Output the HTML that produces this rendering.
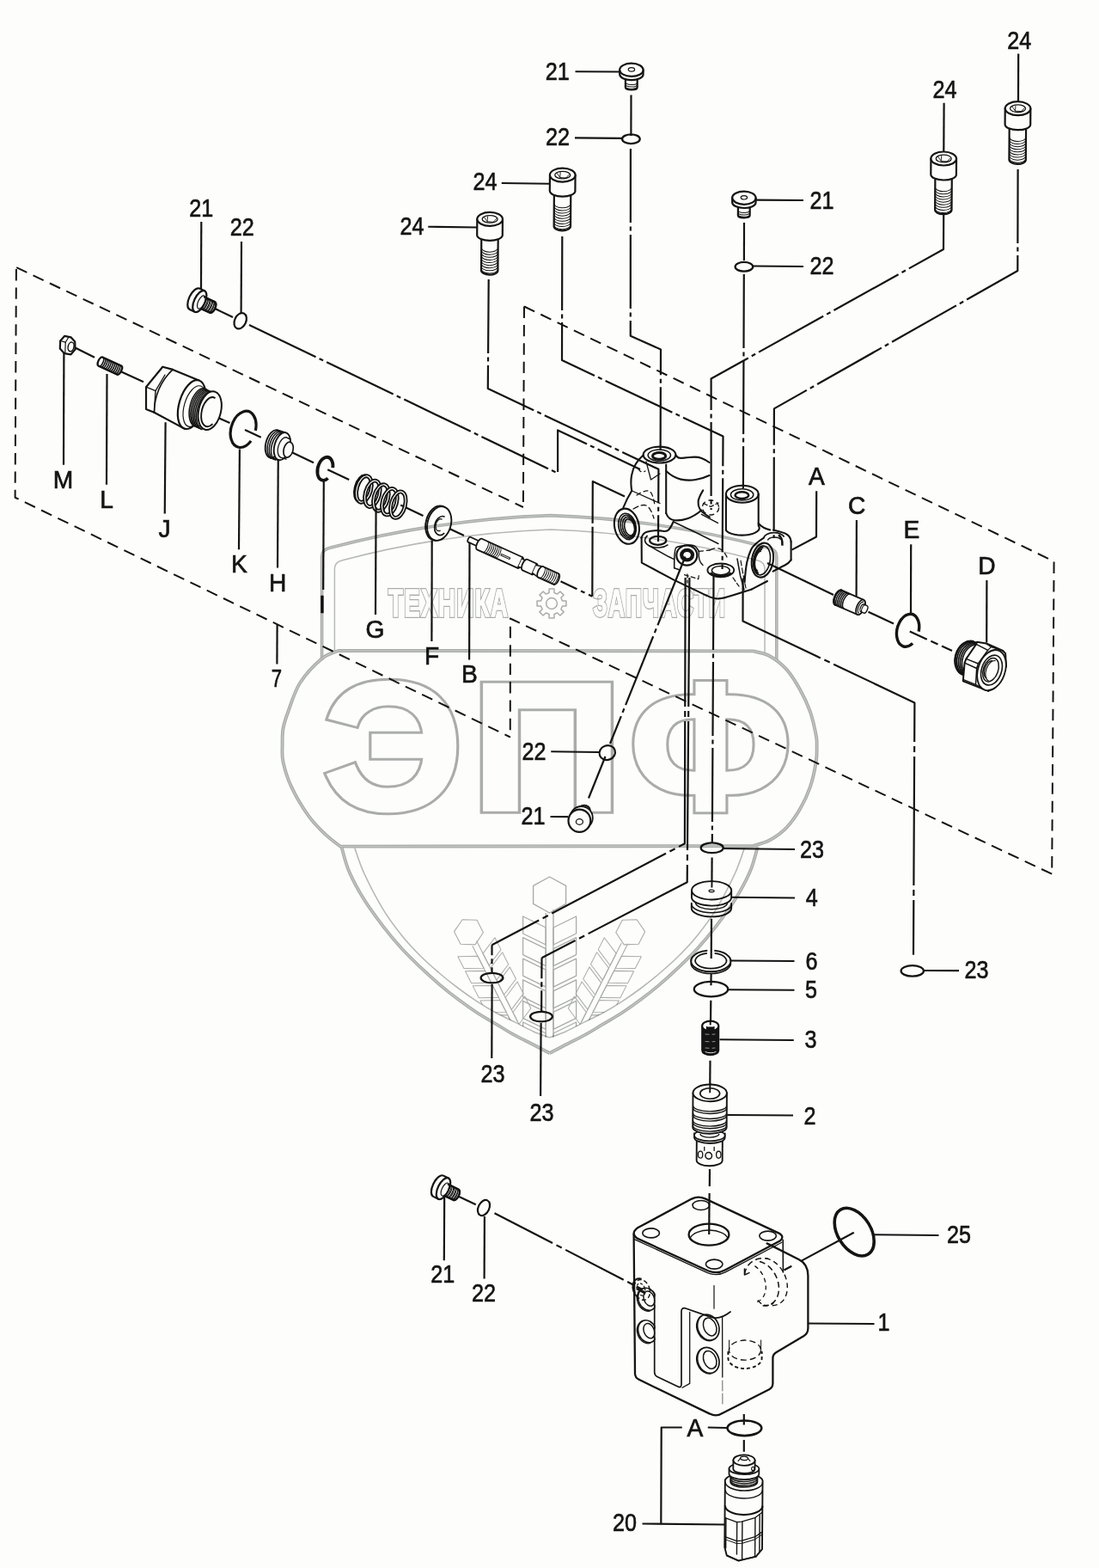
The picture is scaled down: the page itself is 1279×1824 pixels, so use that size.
<!DOCTYPE html>
<html lang="ru">
<head>
<meta charset="utf-8">
<title>Exploded view</title>
<style>
html,body{margin:0;padding:0;background:#fdfefc;}
body{width:1279px;height:1824px;overflow:hidden;}
svg{display:block;font-family:"Liberation Sans",sans-serif;}
</style>
</head>
<body>
<svg width="1279" height="1824" viewBox="0 0 1279 1824">
<rect x="0" y="0" width="1279" height="1824" fill="#fdfefc"/>
<g id="watermark" fill="none" stroke-linejoin="round">
<clipPath id="cpS"><path d="M412.8 986.4 C414.63 991.33 418.32 1004.13 423.8 1016 C429.28 1027.87 438.4 1045.57 445.7 1057.6 C453 1069.63 460.3 1079.08 467.6 1088.2 C474.9 1097.32 482.22 1105 489.5 1112.3 C496.78 1119.6 504.02 1125.8 511.3 1132 C518.58 1138.2 525.9 1144.03 533.2 1149.5 C540.5 1154.97 547.8 1160.05 555.1 1164.8 C562.4 1169.55 569.7 1173.98 577 1178 C584.3 1182.02 591.6 1185.25 598.9 1188.9 C606.2 1192.55 614.02 1196.88 620.8 1199.9 C627.58 1202.92 633.33 1207 639.6 1207 C645.87 1207 651.62 1202.92 658.4 1199.9 C665.18 1196.88 673 1192.55 680.3 1188.9 C687.6 1185.25 694.9 1182.02 702.2 1178 C709.5 1173.98 716.8 1169.55 724.1 1164.8 C731.4 1160.05 738.7 1154.97 746 1149.5 C753.3 1144.03 760.62 1138.2 767.9 1132 C775.18 1125.8 782.42 1119.6 789.7 1112.3 C796.98 1105 804.3 1097.32 811.6 1088.2 C818.9 1079.08 826.2 1069.63 833.5 1057.6 C840.8 1045.57 849.92 1027.87 855.4 1016 C860.88 1004.13 864.57 991.33 866.4 986.4 L412.8 986.4 Z"/></clipPath>
<g clip-path="url(#cpS)">
<g transform="translate(639.6 1044) rotate(0) scale(1)">
<polygon points="0,-24 19,-13.6 19,7.4 0,18 -19,7.4 -19,-13.6" stroke="#aaacaa" stroke-width="1.4" fill="none"/>
<path d="M-4.4 18 L-4.4 199 M4.4 14 L4.4 199" stroke="#aaacaa" stroke-width="1.4"/>
<path d="M-4.4 35 L-31 22 L-31 42 L-4.4 55 Z" stroke="#aaacaa" stroke-width="1.3"/>
<path d="M4.4 35 L31 22 L31 42 L4.4 55 Z" stroke="#aaacaa" stroke-width="1.3"/>
<path d="M-4.4 59.6 L-31 46.6 L-31 66.6 L-4.4 79.6 Z" stroke="#aaacaa" stroke-width="1.3"/>
<path d="M4.4 59.6 L31 46.6 L31 66.6 L4.4 79.6 Z" stroke="#aaacaa" stroke-width="1.3"/>
<path d="M-4.4 84.2 L-31 71.2 L-31 91.2 L-4.4 104.2 Z" stroke="#aaacaa" stroke-width="1.3"/>
<path d="M4.4 84.2 L31 71.2 L31 91.2 L4.4 104.2 Z" stroke="#aaacaa" stroke-width="1.3"/>
<path d="M-4.4 108.8 L-31 95.8 L-31 115.8 L-4.4 128.8 Z" stroke="#aaacaa" stroke-width="1.3"/>
<path d="M4.4 108.8 L31 95.8 L31 115.8 L4.4 128.8 Z" stroke="#aaacaa" stroke-width="1.3"/>
<path d="M-4.4 133.4 L-31 120.4 L-31 140.4 L-4.4 153.4 Z" stroke="#aaacaa" stroke-width="1.3"/>
<path d="M4.4 133.4 L31 120.4 L31 140.4 L4.4 153.4 Z" stroke="#aaacaa" stroke-width="1.3"/>
<path d="M-4.4 158 L-31 145 L-31 165 L-4.4 178 Z" stroke="#aaacaa" stroke-width="1.3"/>
<path d="M4.4 158 L31 145 L31 165 L4.4 178 Z" stroke="#aaacaa" stroke-width="1.3"/>
<path d="M-4.4 182.6 L-31 169.6 L-31 189.6 L-4.4 202.6 Z" stroke="#aaacaa" stroke-width="1.3"/>
<path d="M4.4 182.6 L31 169.6 L31 189.6 L4.4 202.6 Z" stroke="#aaacaa" stroke-width="1.3"/>
</g>
<g transform="translate(546.6 1086.4) rotate(-27) scale(0.78)">
<polygon points="0,-24 19,-13.6 19,7.4 0,18 -19,7.4 -19,-13.6" stroke="#aaacaa" stroke-width="1.4" fill="none"/>
<path d="M-4.4 18 L-4.4 149 M4.4 14 L4.4 149" stroke="#aaacaa" stroke-width="1.4"/>
<path d="M-4.4 35 L-31 22 L-31 42 L-4.4 55 Z" stroke="#aaacaa" stroke-width="1.3"/>
<path d="M4.4 35 L31 22 L31 42 L4.4 55 Z" stroke="#aaacaa" stroke-width="1.3"/>
<path d="M-4.4 59.6 L-31 46.6 L-31 66.6 L-4.4 79.6 Z" stroke="#aaacaa" stroke-width="1.3"/>
<path d="M4.4 59.6 L31 46.6 L31 66.6 L4.4 79.6 Z" stroke="#aaacaa" stroke-width="1.3"/>
<path d="M-4.4 84.2 L-31 71.2 L-31 91.2 L-4.4 104.2 Z" stroke="#aaacaa" stroke-width="1.3"/>
<path d="M4.4 84.2 L31 71.2 L31 91.2 L4.4 104.2 Z" stroke="#aaacaa" stroke-width="1.3"/>
<path d="M-4.4 108.8 L-31 95.8 L-31 115.8 L-4.4 128.8 Z" stroke="#aaacaa" stroke-width="1.3"/>
<path d="M4.4 108.8 L31 95.8 L31 115.8 L4.4 128.8 Z" stroke="#aaacaa" stroke-width="1.3"/>
<path d="M-4.4 133.4 L-31 120.4 L-31 140.4 L-4.4 153.4 Z" stroke="#aaacaa" stroke-width="1.3"/>
<path d="M4.4 133.4 L31 120.4 L31 140.4 L4.4 153.4 Z" stroke="#aaacaa" stroke-width="1.3"/>
</g>
<g transform="translate(732.6 1086.4) rotate(27) scale(0.78)">
<polygon points="0,-24 19,-13.6 19,7.4 0,18 -19,7.4 -19,-13.6" stroke="#aaacaa" stroke-width="1.4" fill="none"/>
<path d="M-4.4 18 L-4.4 149 M4.4 14 L4.4 149" stroke="#aaacaa" stroke-width="1.4"/>
<path d="M-4.4 35 L-31 22 L-31 42 L-4.4 55 Z" stroke="#aaacaa" stroke-width="1.3"/>
<path d="M4.4 35 L31 22 L31 42 L4.4 55 Z" stroke="#aaacaa" stroke-width="1.3"/>
<path d="M-4.4 59.6 L-31 46.6 L-31 66.6 L-4.4 79.6 Z" stroke="#aaacaa" stroke-width="1.3"/>
<path d="M4.4 59.6 L31 46.6 L31 66.6 L4.4 79.6 Z" stroke="#aaacaa" stroke-width="1.3"/>
<path d="M-4.4 84.2 L-31 71.2 L-31 91.2 L-4.4 104.2 Z" stroke="#aaacaa" stroke-width="1.3"/>
<path d="M4.4 84.2 L31 71.2 L31 91.2 L4.4 104.2 Z" stroke="#aaacaa" stroke-width="1.3"/>
<path d="M-4.4 108.8 L-31 95.8 L-31 115.8 L-4.4 128.8 Z" stroke="#aaacaa" stroke-width="1.3"/>
<path d="M4.4 108.8 L31 95.8 L31 115.8 L4.4 128.8 Z" stroke="#aaacaa" stroke-width="1.3"/>
<path d="M-4.4 133.4 L-31 120.4 L-31 140.4 L-4.4 153.4 Z" stroke="#aaacaa" stroke-width="1.3"/>
<path d="M4.4 133.4 L31 120.4 L31 140.4 L4.4 153.4 Z" stroke="#aaacaa" stroke-width="1.3"/>
</g>
</g>
<text transform="translate(457.5 940.6) scale(1.08 1)" font-size="209" font-weight="bold" text-anchor="middle" stroke-linejoin="miter" stroke-miterlimit="3" fill="#aaacaa" stroke="#aaacaa" stroke-width="10.7">Э</text>
<text transform="translate(457.5 940.6) scale(1.08 1)" font-size="209" font-weight="bold" text-anchor="middle" stroke-linejoin="miter" stroke-miterlimit="3" fill="#fdfefc" stroke="#fdfefc" stroke-width="4.7">Э</text>
<text transform="translate(636.4 940.6) scale(1.17 1)" font-size="209" font-weight="bold" text-anchor="middle" stroke-linejoin="miter" stroke-miterlimit="3" fill="#aaacaa" stroke="#aaacaa" stroke-width="10.7">П</text>
<text transform="translate(636.4 940.6) scale(1.17 1)" font-size="209" font-weight="bold" text-anchor="middle" stroke-linejoin="miter" stroke-miterlimit="3" fill="#fdfefc" stroke="#fdfefc" stroke-width="4.7">П</text>
<text transform="translate(827 940.6) scale(1.05 1)" font-size="209" font-weight="bold" text-anchor="middle" stroke-linejoin="miter" stroke-miterlimit="3" fill="#aaacaa" stroke="#aaacaa" stroke-width="10.7">Ф</text>
<text transform="translate(827 940.6) scale(1.05 1)" font-size="209" font-weight="bold" text-anchor="middle" stroke-linejoin="miter" stroke-miterlimit="3" fill="#fdfefc" stroke="#fdfefc" stroke-width="4.7">Ф</text>
<text transform="translate(522.2 717.2) scale(0.62 1)" font-size="44.5" font-weight="bold" text-anchor="middle" stroke-linejoin="miter" stroke-miterlimit="3" letter-spacing="2.4" fill="#aaacaa" stroke="#aaacaa" stroke-width="3.9">ТЕХНИКА</text>
<text transform="translate(522.2 717.2) scale(0.62 1)" font-size="44.5" font-weight="bold" text-anchor="middle" stroke-linejoin="miter" stroke-miterlimit="3" letter-spacing="2.4" fill="#fdfefc" stroke="#fdfefc" stroke-width="1.3">ТЕХНИКА</text>
<text transform="translate(767.8 717.2) scale(0.59 1)" font-size="44.5" font-weight="bold" text-anchor="middle" stroke-linejoin="miter" stroke-miterlimit="3" letter-spacing="2.4" fill="#aaacaa" stroke="#aaacaa" stroke-width="3.9">ЗАПЧАСТИ</text>
<text transform="translate(767.8 717.2) scale(0.59 1)" font-size="44.5" font-weight="bold" text-anchor="middle" stroke-linejoin="miter" stroke-miterlimit="3" letter-spacing="2.4" fill="#fdfefc" stroke="#fdfefc" stroke-width="1.3">ЗАПЧАСТИ</text>
<polygon points="658.94,699.04 658.94,704.96 654.45,704.99 652.91,708.69 656.07,711.89 651.89,716.07 648.69,712.91 644.99,714.45 644.96,718.94 639.04,718.94 639.01,714.45 635.31,712.91 632.11,716.07 627.93,711.89 631.09,708.69 629.55,704.99 625.06,704.96 625.06,699.04 629.55,699.01 631.09,695.31 627.93,692.11 632.11,687.93 635.31,691.09 639.01,689.55 639.04,685.06 644.96,685.06 644.99,689.55 648.69,691.09 651.89,687.93 656.07,692.11 652.91,695.31 654.45,699.01" stroke="#aaacaa" stroke-width="1.5" fill="none"/>
<circle cx="642" cy="702" r="6.4" stroke="#aaacaa" stroke-width="1.5" fill="none"/>
</g>
<g id="box7">
<polyline points="19.2,311.2 608.9,590" fill="none" stroke="#141414" stroke-width="2" stroke-linejoin="round" stroke-dasharray="13.4 8"/>
<polyline points="18.9,313 17.6,578.75 593.75,857.5" fill="none" stroke="#141414" stroke-width="2" stroke-linejoin="round" stroke-dasharray="13.4 8"/>
<polyline points="610,356.5 608.9,590" fill="none" stroke="#141414" stroke-width="2" stroke-linejoin="round" stroke-dasharray="13.4 8"/>
<polyline points="610,356.5 1226.6,653 1224.2,1016.7" fill="none" stroke="#141414" stroke-width="2" stroke-linejoin="round" stroke-dasharray="13.4 8"/>
<polyline points="1224.2,1016.7 593.9,719.5 593.75,857.5" fill="none" stroke="#141414" stroke-width="2" stroke-linejoin="round" stroke-dasharray="13.4 8"/>
</g>
<g id="chain">
<line x1="734.5" y1="110.5" x2="734.4" y2="158" stroke="#141414" stroke-width="2.2"/>
<polyline points="733.9,173 733.75,390.75 769,406.5 768.6,524" fill="none" stroke="#141414" stroke-width="2.2" stroke-linejoin="round" stroke-dasharray="86 4.5 5 4.5"/>
<line x1="866" y1="259" x2="865.9" y2="303" stroke="#141414" stroke-width="2.2"/>
<line x1="865.8" y1="319" x2="864.9" y2="568" stroke="#141414" stroke-width="2.2" stroke-dasharray="86 4.5 5 4.5"/>
<polyline points="654.3,275 654,419 841.5,507.6 840.6,662" fill="none" stroke="#141414" stroke-width="2.2" stroke-linejoin="round" stroke-dasharray="86 4.5 5 4.5"/>
<polyline points="568.7,325 567.8,452 766.4,545.8 766,630" fill="none" stroke="#141414" stroke-width="2.2" stroke-linejoin="round" stroke-dasharray="86 4.5 5 4.5"/>
<polyline points="1098.2,250 1098,290 827.6,440.5 827.6,593" fill="none" stroke="#141414" stroke-width="2.2" stroke-linejoin="round" stroke-dasharray="86 4.5 5 4.5"/>
<polyline points="1184.6,197 1184.3,315 900.9,475.4 900.6,626" fill="none" stroke="#141414" stroke-width="2.2" stroke-linejoin="round" stroke-dasharray="86 4.5 5 4.5"/>
<line x1="247" y1="357.5" x2="271" y2="369" stroke="#141414" stroke-width="2.2"/>
<polyline points="290,378 649.1,550.5 649.1,500.4 745,546" fill="none" stroke="#141414" stroke-width="2.2" stroke-linejoin="round" stroke-dasharray="86 4.5 5 4.5"/>
<line x1="87.5" y1="404.5" x2="110" y2="415.75" stroke="#141414" stroke-width="2.2"/>
<line x1="141.25" y1="432.5" x2="167" y2="444.25" stroke="#141414" stroke-width="2.2"/>
<line x1="255" y1="486.5" x2="267.5" y2="492" stroke="#141414" stroke-width="2.2"/>
<line x1="285" y1="500" x2="303.75" y2="508.75" stroke="#141414" stroke-width="2.2"/>
<line x1="338.75" y1="525.75" x2="365" y2="538.25" stroke="#141414" stroke-width="2.2"/>
<line x1="381.25" y1="546.25" x2="406.25" y2="558" stroke="#141414" stroke-width="2.2"/>
<line x1="466.25" y1="587.5" x2="492.5" y2="600" stroke="#141414" stroke-width="2.2"/>
<line x1="512.5" y1="610" x2="540" y2="623" stroke="#141414" stroke-width="2.2"/>
<line x1="652.5" y1="676.25" x2="689.3" y2="693.75" stroke="#141414" stroke-width="2.2" stroke-dasharray="21 5 5 5"/>
<polyline points="689.3,693.75 689.6,612 689.8,560 727,577.5" fill="none" stroke="#141414" stroke-width="2.2" stroke-linejoin="round" stroke-dasharray="81 4 400"/>
<line x1="893" y1="655" x2="970" y2="692" stroke="#141414" stroke-width="2.2" stroke-dasharray="86 4.5 5 4.5"/>
<line x1="1010.5" y1="711.75" x2="1040" y2="725.5" stroke="#141414" stroke-width="2.2"/>
<line x1="1058.75" y1="734.5" x2="1108" y2="757" stroke="#141414" stroke-width="2.2" stroke-dasharray="22 5 9 5"/>
<polyline points="864.6,672.5 864.5,722.5 1064.4,817.4 1063,1110.7" fill="none" stroke="#141414" stroke-width="2.2" stroke-linejoin="round" stroke-dasharray="150 5 7 5"/>
<line x1="797.5" y1="647.5" x2="710" y2="865" stroke="#141414" stroke-width="2.2" stroke-dasharray="86 4.5 5 4.5"/>
<line x1="704.5" y1="880" x2="685" y2="928.5" stroke="#141414" stroke-width="2.2"/>
<polyline points="797.6,672 796.9,981.25 572.5,1099.25" fill="none" stroke="#141414" stroke-width="2.2" stroke-linejoin="round" stroke-dasharray="150 5 7 5"/>
<line x1="572.5" y1="1099.25" x2="572.5" y2="1131" stroke="#141414" stroke-width="2.2" stroke-dasharray="12 4 6 4 20"/>
<polyline points="802.4,672 799.7,1026.25 630.5,1114.25" fill="none" stroke="#141414" stroke-width="2.2" stroke-linejoin="round" stroke-dasharray="150 5 7 5"/>
<line x1="630.5" y1="1114.25" x2="630.1" y2="1177" stroke="#141414" stroke-width="2.2" stroke-dasharray="24 4 6 4 40"/>
<line x1="830.5" y1="670" x2="828.8" y2="980" stroke="#141414" stroke-width="2.2" stroke-dasharray="86 4.5 5 4.5"/>
<line x1="828.6" y1="997.5" x2="828.4" y2="1032.5" stroke="#141414" stroke-width="2.2"/>
<line x1="828" y1="1068.75" x2="827.7" y2="1115" stroke="#141414" stroke-width="2.2"/>
<line x1="827.6" y1="1132.5" x2="827.5" y2="1146.25" stroke="#141414" stroke-width="2.2"/>
<line x1="827.3" y1="1163.75" x2="827" y2="1191" stroke="#141414" stroke-width="2.2"/>
<line x1="826.5" y1="1233.75" x2="826.2" y2="1270" stroke="#141414" stroke-width="2.2"/>
<line x1="826" y1="1360" x2="825.8" y2="1380" stroke="#141414" stroke-width="2.2"/>
<line x1="825.6" y1="1388" x2="825.2" y2="1436" stroke="#141414" stroke-width="2.2"/>
<line x1="530" y1="1390" x2="553.75" y2="1401.25" stroke="#141414" stroke-width="2.2"/>
<line x1="575.5" y1="1411.25" x2="747.5" y2="1500" stroke="#141414" stroke-width="2.2" stroke-dasharray="76 5 7 5"/>
<line x1="912.5" y1="1477.5" x2="993.75" y2="1433.75" stroke="#141414" stroke-width="2.2" stroke-dasharray="10 13 80"/>
<line x1="865.8" y1="1645" x2="865.8" y2="1657.5" stroke="#141414" stroke-width="2.2"/>
<line x1="865.8" y1="1675" x2="865.8" y2="1688.75" stroke="#141414" stroke-width="2.2"/>
</g>
<g id="small">
<g transform="translate(1184.6 117.6) rotate(0.4)">
<path d="M-9.7 33 L-9.7 68.3 A9.7 5 0 0 0 9.7 68.3 L9.7 33" fill="#fdfefc" stroke="#141414" stroke-width="2.2" stroke-linejoin="round" stroke-linecap="round"/>
<path d="M-9.7 42 A9.7 4.85 0 0 0 9.7 42" fill="none" stroke="#141414" stroke-width="1"/>
<path d="M-9.7 45.1 A9.7 4.85 0 0 0 9.7 45.1" fill="none" stroke="#141414" stroke-width="1"/>
<path d="M-9.7 48.2 A9.7 4.85 0 0 0 9.7 48.2" fill="none" stroke="#141414" stroke-width="1"/>
<path d="M-9.7 51.3 A9.7 4.85 0 0 0 9.7 51.3" fill="none" stroke="#141414" stroke-width="1"/>
<path d="M-9.7 54.4 A9.7 4.85 0 0 0 9.7 54.4" fill="none" stroke="#141414" stroke-width="1"/>
<path d="M-9.7 57.5 A9.7 4.85 0 0 0 9.7 57.5" fill="none" stroke="#141414" stroke-width="1"/>
<path d="M-9.7 60.6 A9.7 4.85 0 0 0 9.7 60.6" fill="none" stroke="#141414" stroke-width="1"/>
<path d="M-9.7 63.7 A9.7 4.85 0 0 0 9.7 63.7" fill="none" stroke="#141414" stroke-width="1"/>
<path d="M-9.7 66.8 A9.7 4.85 0 0 0 9.7 66.8" fill="none" stroke="#141414" stroke-width="1"/>
<path d="M-14.8 8.6 L-14.8 27.2 A14.8 6.4 0 0 0 14.8 27.2 L14.8 8.6" fill="#fdfefc" stroke="#141414" stroke-width="2.2" stroke-linejoin="round" stroke-linecap="round"/>
<ellipse cx="0" cy="8.6" rx="14.8" ry="7.99" fill="#fdfefc" stroke="#141414" stroke-width="2.2"/>
<ellipse cx="0" cy="8.6" rx="9" ry="4.32" fill="none" stroke="#141414" stroke-width="1.3"/>
<path d="M-6.5 6.5 L-3 11.5 L4 12 M-3 11.5 L-2.6 5.6 M4 12 L7.6 8" fill="none" stroke="#141414" stroke-width="0.9" stroke-linejoin="round" stroke-linecap="round"/>
</g>
<g transform="translate(1098.3 175.9) rotate(0.4)">
<path d="M-9.7 33 L-9.7 68.3 A9.7 5 0 0 0 9.7 68.3 L9.7 33" fill="#fdfefc" stroke="#141414" stroke-width="2.2" stroke-linejoin="round" stroke-linecap="round"/>
<path d="M-9.7 42 A9.7 4.85 0 0 0 9.7 42" fill="none" stroke="#141414" stroke-width="1"/>
<path d="M-9.7 45.1 A9.7 4.85 0 0 0 9.7 45.1" fill="none" stroke="#141414" stroke-width="1"/>
<path d="M-9.7 48.2 A9.7 4.85 0 0 0 9.7 48.2" fill="none" stroke="#141414" stroke-width="1"/>
<path d="M-9.7 51.3 A9.7 4.85 0 0 0 9.7 51.3" fill="none" stroke="#141414" stroke-width="1"/>
<path d="M-9.7 54.4 A9.7 4.85 0 0 0 9.7 54.4" fill="none" stroke="#141414" stroke-width="1"/>
<path d="M-9.7 57.5 A9.7 4.85 0 0 0 9.7 57.5" fill="none" stroke="#141414" stroke-width="1"/>
<path d="M-9.7 60.6 A9.7 4.85 0 0 0 9.7 60.6" fill="none" stroke="#141414" stroke-width="1"/>
<path d="M-9.7 63.7 A9.7 4.85 0 0 0 9.7 63.7" fill="none" stroke="#141414" stroke-width="1"/>
<path d="M-9.7 66.8 A9.7 4.85 0 0 0 9.7 66.8" fill="none" stroke="#141414" stroke-width="1"/>
<path d="M-14.8 8.6 L-14.8 27.2 A14.8 6.4 0 0 0 14.8 27.2 L14.8 8.6" fill="#fdfefc" stroke="#141414" stroke-width="2.2" stroke-linejoin="round" stroke-linecap="round"/>
<ellipse cx="0" cy="8.6" rx="14.8" ry="7.99" fill="#fdfefc" stroke="#141414" stroke-width="2.2"/>
<ellipse cx="0" cy="8.6" rx="9" ry="4.32" fill="none" stroke="#141414" stroke-width="1.3"/>
<path d="M-6.5 6.5 L-3 11.5 L4 12 M-3 11.5 L-2.6 5.6 M4 12 L7.6 8" fill="none" stroke="#141414" stroke-width="0.9" stroke-linejoin="round" stroke-linecap="round"/>
</g>
<g transform="translate(654.8 195) rotate(0.4)">
<path d="M-9.7 33 L-9.7 68.3 A9.7 5 0 0 0 9.7 68.3 L9.7 33" fill="#fdfefc" stroke="#141414" stroke-width="2.2" stroke-linejoin="round" stroke-linecap="round"/>
<path d="M-9.7 42 A9.7 4.85 0 0 0 9.7 42" fill="none" stroke="#141414" stroke-width="1"/>
<path d="M-9.7 45.1 A9.7 4.85 0 0 0 9.7 45.1" fill="none" stroke="#141414" stroke-width="1"/>
<path d="M-9.7 48.2 A9.7 4.85 0 0 0 9.7 48.2" fill="none" stroke="#141414" stroke-width="1"/>
<path d="M-9.7 51.3 A9.7 4.85 0 0 0 9.7 51.3" fill="none" stroke="#141414" stroke-width="1"/>
<path d="M-9.7 54.4 A9.7 4.85 0 0 0 9.7 54.4" fill="none" stroke="#141414" stroke-width="1"/>
<path d="M-9.7 57.5 A9.7 4.85 0 0 0 9.7 57.5" fill="none" stroke="#141414" stroke-width="1"/>
<path d="M-9.7 60.6 A9.7 4.85 0 0 0 9.7 60.6" fill="none" stroke="#141414" stroke-width="1"/>
<path d="M-9.7 63.7 A9.7 4.85 0 0 0 9.7 63.7" fill="none" stroke="#141414" stroke-width="1"/>
<path d="M-9.7 66.8 A9.7 4.85 0 0 0 9.7 66.8" fill="none" stroke="#141414" stroke-width="1"/>
<path d="M-14.8 8.6 L-14.8 27.2 A14.8 6.4 0 0 0 14.8 27.2 L14.8 8.6" fill="#fdfefc" stroke="#141414" stroke-width="2.2" stroke-linejoin="round" stroke-linecap="round"/>
<ellipse cx="0" cy="8.6" rx="14.8" ry="7.99" fill="#fdfefc" stroke="#141414" stroke-width="2.2"/>
<ellipse cx="0" cy="8.6" rx="9" ry="4.32" fill="none" stroke="#141414" stroke-width="1.3"/>
<path d="M-6.5 6.5 L-3 11.5 L4 12 M-3 11.5 L-2.6 5.6 M4 12 L7.6 8" fill="none" stroke="#141414" stroke-width="0.9" stroke-linejoin="round" stroke-linecap="round"/>
</g>
<g transform="translate(570.2 246.3) rotate(0.4)">
<path d="M-9.7 33 L-9.7 68.3 A9.7 5 0 0 0 9.7 68.3 L9.7 33" fill="#fdfefc" stroke="#141414" stroke-width="2.2" stroke-linejoin="round" stroke-linecap="round"/>
<path d="M-9.7 42 A9.7 4.85 0 0 0 9.7 42" fill="none" stroke="#141414" stroke-width="1"/>
<path d="M-9.7 45.1 A9.7 4.85 0 0 0 9.7 45.1" fill="none" stroke="#141414" stroke-width="1"/>
<path d="M-9.7 48.2 A9.7 4.85 0 0 0 9.7 48.2" fill="none" stroke="#141414" stroke-width="1"/>
<path d="M-9.7 51.3 A9.7 4.85 0 0 0 9.7 51.3" fill="none" stroke="#141414" stroke-width="1"/>
<path d="M-9.7 54.4 A9.7 4.85 0 0 0 9.7 54.4" fill="none" stroke="#141414" stroke-width="1"/>
<path d="M-9.7 57.5 A9.7 4.85 0 0 0 9.7 57.5" fill="none" stroke="#141414" stroke-width="1"/>
<path d="M-9.7 60.6 A9.7 4.85 0 0 0 9.7 60.6" fill="none" stroke="#141414" stroke-width="1"/>
<path d="M-9.7 63.7 A9.7 4.85 0 0 0 9.7 63.7" fill="none" stroke="#141414" stroke-width="1"/>
<path d="M-9.7 66.8 A9.7 4.85 0 0 0 9.7 66.8" fill="none" stroke="#141414" stroke-width="1"/>
<path d="M-14.8 8.6 L-14.8 27.2 A14.8 6.4 0 0 0 14.8 27.2 L14.8 8.6" fill="#fdfefc" stroke="#141414" stroke-width="2.2" stroke-linejoin="round" stroke-linecap="round"/>
<ellipse cx="0" cy="8.6" rx="14.8" ry="7.99" fill="#fdfefc" stroke="#141414" stroke-width="2.2"/>
<ellipse cx="0" cy="8.6" rx="9" ry="4.32" fill="none" stroke="#141414" stroke-width="1.3"/>
<path d="M-6.5 6.5 L-3 11.5 L4 12 M-3 11.5 L-2.6 5.6 M4 12 L7.6 8" fill="none" stroke="#141414" stroke-width="0.9" stroke-linejoin="round" stroke-linecap="round"/>
</g>
<g transform="translate(734.9 81.3) rotate(0.4)">
<path d="M-6.9 10 L-6.9 20.3 A6.9 2.8 0 0 0 6.9 20.3 L6.9 10" fill="#fdfefc" stroke="#141414" stroke-width="2.2" stroke-linejoin="round" stroke-linecap="round"/>
<path d="M-6.9 14.3 A6.9 2.9 0 0 0 6.9 14.3" fill="none" stroke="#141414" stroke-width="1"/>
<path d="M-6.9 16.8 A6.9 2.9 0 0 0 6.9 16.8" fill="none" stroke="#141414" stroke-width="1"/>
<path d="M-6.9 19.2 A6.9 2.9 0 0 0 6.9 19.2" fill="none" stroke="#141414" stroke-width="1"/>
<path d="M-13.7 0 L-13.7 5.4 A13.7 6.4 0 0 0 13.7 5.4 L13.7 0" fill="#fdfefc" stroke="#141414" stroke-width="2.2" stroke-linejoin="round" stroke-linecap="round"/>
<ellipse cx="0" cy="0" rx="13.7" ry="7.6" fill="#fdfefc" stroke="#141414" stroke-width="2.2"/>
<ellipse cx="0" cy="-0.4" rx="3.7" ry="2.22" fill="none" stroke="#141414" stroke-width="1.2"/>
</g>
<g transform="translate(865.9 230.2) rotate(0.4)">
<path d="M-6.9 10 L-6.9 20.3 A6.9 2.8 0 0 0 6.9 20.3 L6.9 10" fill="#fdfefc" stroke="#141414" stroke-width="2.2" stroke-linejoin="round" stroke-linecap="round"/>
<path d="M-6.9 14.3 A6.9 2.9 0 0 0 6.9 14.3" fill="none" stroke="#141414" stroke-width="1"/>
<path d="M-6.9 16.8 A6.9 2.9 0 0 0 6.9 16.8" fill="none" stroke="#141414" stroke-width="1"/>
<path d="M-6.9 19.2 A6.9 2.9 0 0 0 6.9 19.2" fill="none" stroke="#141414" stroke-width="1"/>
<path d="M-13.7 0 L-13.7 5.4 A13.7 6.4 0 0 0 13.7 5.4 L13.7 0" fill="#fdfefc" stroke="#141414" stroke-width="2.2" stroke-linejoin="round" stroke-linecap="round"/>
<ellipse cx="0" cy="0" rx="13.7" ry="7.6" fill="#fdfefc" stroke="#141414" stroke-width="2.2"/>
<ellipse cx="0" cy="-0.4" rx="3.7" ry="2.22" fill="none" stroke="#141414" stroke-width="1.2"/>
</g>
<ellipse cx="734.4" cy="161.7" rx="10.3" ry="5.4" fill="none" stroke="#141414" stroke-width="2.3"/>
<ellipse cx="865.9" cy="310.3" rx="10.3" ry="5.4" fill="none" stroke="#141414" stroke-width="2.3"/>
<g transform="translate(232.3 350.6) rotate(25)">
<path d="M2 -6.9 L16.5 -6.9 A3.2 6.9 0 0 1 16.5 6.9 L2 6.9" fill="#fdfefc" stroke="#141414" stroke-width="2.2" stroke-linejoin="round" stroke-linecap="round"/>
<path d="M5.5 -6.9 A2.9 6.9 0 0 1 5.5 6.9" fill="none" stroke="#141414" stroke-width="1.1"/>
<path d="M8.3 -6.9 A2.9 6.9 0 0 1 8.3 6.9" fill="none" stroke="#141414" stroke-width="1.1"/>
<path d="M11.1 -6.9 A2.9 6.9 0 0 1 11.1 6.9" fill="none" stroke="#141414" stroke-width="1.1"/>
<path d="M13.9 -6.9 A2.9 6.9 0 0 1 13.9 6.9" fill="none" stroke="#141414" stroke-width="1.1"/>
<path d="M0 -13.5 L-6.5 -13.5 A6.4 13.5 0 0 0 -6.5 13.5 L0 13.5" fill="#fdfefc" stroke="#141414" stroke-width="2.2" stroke-linejoin="round" stroke-linecap="round"/>
<ellipse cx="0" cy="0" rx="6.34" ry="13.5" fill="#fdfefc" stroke="#141414" stroke-width="2.2"/>
<ellipse cx="2.2" cy="0" rx="3.69" ry="8.2" fill="none" stroke="#141414" stroke-width="1.2"/>
<path d="M3 -6.9 L16.5 -6.9 A3.2 6.9 0 0 1 16.5 6.9 L6 6.9" fill="none" stroke="#141414" stroke-width="2.2" stroke-linejoin="round" stroke-linecap="round"/>
<path d="M6.5 -6.9 A2.9 6.9 0 0 1 6.5 6.9" fill="none" stroke="#141414" stroke-width="1.1"/>
<path d="M9.3 -6.9 A2.9 6.9 0 0 1 9.3 6.9" fill="none" stroke="#141414" stroke-width="1.1"/>
<path d="M12.1 -6.9 A2.9 6.9 0 0 1 12.1 6.9" fill="none" stroke="#141414" stroke-width="1.1"/>
<path d="M14.5 -6.9 A2.9 6.9 0 0 1 14.5 6.9" fill="none" stroke="#141414" stroke-width="1.1"/>
</g>
<ellipse cx="279.7" cy="373.3" rx="6.6" ry="9.6" fill="none" stroke="#141414" stroke-width="2.2" transform="rotate(25 279.7 373.3)"/>
<g transform="translate(516 1382.6) rotate(26)">
<path d="M2 -6.9 L16.5 -6.9 A3.2 6.9 0 0 1 16.5 6.9 L2 6.9" fill="#fdfefc" stroke="#141414" stroke-width="2.2" stroke-linejoin="round" stroke-linecap="round"/>
<path d="M5.5 -6.9 A2.9 6.9 0 0 1 5.5 6.9" fill="none" stroke="#141414" stroke-width="1.1"/>
<path d="M8.3 -6.9 A2.9 6.9 0 0 1 8.3 6.9" fill="none" stroke="#141414" stroke-width="1.1"/>
<path d="M11.1 -6.9 A2.9 6.9 0 0 1 11.1 6.9" fill="none" stroke="#141414" stroke-width="1.1"/>
<path d="M13.9 -6.9 A2.9 6.9 0 0 1 13.9 6.9" fill="none" stroke="#141414" stroke-width="1.1"/>
<path d="M0 -13.5 L-6.5 -13.5 A6.4 13.5 0 0 0 -6.5 13.5 L0 13.5" fill="#fdfefc" stroke="#141414" stroke-width="2.2" stroke-linejoin="round" stroke-linecap="round"/>
<ellipse cx="0" cy="0" rx="6.34" ry="13.5" fill="#fdfefc" stroke="#141414" stroke-width="2.2"/>
<ellipse cx="2.2" cy="0" rx="3.69" ry="8.2" fill="none" stroke="#141414" stroke-width="1.2"/>
<path d="M3 -6.9 L16.5 -6.9 A3.2 6.9 0 0 1 16.5 6.9 L6 6.9" fill="none" stroke="#141414" stroke-width="2.2" stroke-linejoin="round" stroke-linecap="round"/>
<path d="M6.5 -6.9 A2.9 6.9 0 0 1 6.5 6.9" fill="none" stroke="#141414" stroke-width="1.1"/>
<path d="M9.3 -6.9 A2.9 6.9 0 0 1 9.3 6.9" fill="none" stroke="#141414" stroke-width="1.1"/>
<path d="M12.1 -6.9 A2.9 6.9 0 0 1 12.1 6.9" fill="none" stroke="#141414" stroke-width="1.1"/>
<path d="M14.5 -6.9 A2.9 6.9 0 0 1 14.5 6.9" fill="none" stroke="#141414" stroke-width="1.1"/>
</g>
<ellipse cx="563" cy="1405" rx="6.3" ry="9.6" fill="none" stroke="#141414" stroke-width="2.2" transform="rotate(26 563 1405)"/>
<ellipse cx="706.75" cy="875.6" rx="9.3" ry="8.3" fill="none" stroke="#141414" stroke-width="2.2" transform="rotate(-20 706.75 875.6)"/>
<ellipse cx="828.7" cy="986.3" rx="13" ry="5.9" fill="none" stroke="#141414" stroke-width="2.3"/>
<ellipse cx="1061.8" cy="1129.4" rx="13.2" ry="6.3" fill="none" stroke="#141414" stroke-width="2.3"/>
<ellipse cx="572.5" cy="1137.6" rx="12.9" ry="5.8" fill="none" stroke="#141414" stroke-width="2.3"/>
<ellipse cx="630" cy="1182.6" rx="12.9" ry="5.8" fill="none" stroke="#141414" stroke-width="2.3"/>
<ellipse cx="827.5" cy="1150.6" rx="19.7" ry="8.7" fill="none" stroke="#141414" stroke-width="2.3"/>
<ellipse cx="866.4" cy="1661.3" rx="19.9" ry="8.8" fill="none" stroke="#141414" stroke-width="2.6"/>
<ellipse cx="994.2" cy="1433.1" rx="30.5" ry="19.3" fill="none" stroke="#141414" stroke-width="3.6" transform="rotate(58 994.2 1433.1)"/>
<path d="M70.2 396.5 L75.3 390.8 L82.5 392.3 L87.2 397.5 L87.5 406.5 L82.5 412.3 L75 411.2 L69.8 405.5 Z" fill="#fdfefc" stroke="#141414" stroke-width="2.2" stroke-linejoin="round" stroke-linecap="round"/>
<path d="M70.2 396.5 L76.2 398.2 L75.8 411" fill="none" stroke="#141414" stroke-width="1.2" stroke-linejoin="round" stroke-linecap="round"/>
<path d="M76.2 398.2 L80 392" fill="none" stroke="#141414" stroke-width="1.2" stroke-linejoin="round" stroke-linecap="round"/>
<ellipse cx="82.6" cy="403.4" rx="3.4" ry="5.4" fill="#fdfefc" stroke="#141414" stroke-width="1.5" transform="rotate(12 82.6 403.4)"/>
<g transform="translate(127.9 425.6) rotate(24.5)">
<path d="M-12 -5.6 L12 -5.6 A2.6 5.6 0 0 1 12 5.6 L-12 5.6 A2.6 5.6 0 0 1 -12 -5.6 Z" fill="#fdfefc" stroke="#141414" stroke-width="2.2" stroke-linejoin="round" stroke-linecap="round"/>
<path d="M-11.6 -5.6 A2.6 5.6 0 0 1 -11.6 5.6" fill="none" stroke="#141414" stroke-width="1.6" stroke-linejoin="round" stroke-linecap="round"/>
<path d="M-9.3 -5.6 A2.6 5.6 0 0 1 -9.3 5.6" fill="none" stroke="#141414" stroke-width="1.6" stroke-linejoin="round" stroke-linecap="round"/>
<path d="M-7 -5.6 A2.6 5.6 0 0 1 -7 5.6" fill="none" stroke="#141414" stroke-width="1.6" stroke-linejoin="round" stroke-linecap="round"/>
<path d="M-4.7 -5.6 A2.6 5.6 0 0 1 -4.7 5.6" fill="none" stroke="#141414" stroke-width="1.6" stroke-linejoin="round" stroke-linecap="round"/>
<path d="M-2.4 -5.6 A2.6 5.6 0 0 1 -2.4 5.6" fill="none" stroke="#141414" stroke-width="1.6" stroke-linejoin="round" stroke-linecap="round"/>
<path d="M-0.1 -5.6 A2.6 5.6 0 0 1 -0.1 5.6" fill="none" stroke="#141414" stroke-width="1.6" stroke-linejoin="round" stroke-linecap="round"/>
<path d="M2.2 -5.6 A2.6 5.6 0 0 1 2.2 5.6" fill="none" stroke="#141414" stroke-width="1.6" stroke-linejoin="round" stroke-linecap="round"/>
<path d="M4.5 -5.6 A2.6 5.6 0 0 1 4.5 5.6" fill="none" stroke="#141414" stroke-width="1.6" stroke-linejoin="round" stroke-linecap="round"/>
<path d="M6.8 -5.6 A2.6 5.6 0 0 1 6.8 5.6" fill="none" stroke="#141414" stroke-width="1.6" stroke-linejoin="round" stroke-linecap="round"/>
<path d="M9.1 -5.6 A2.6 5.6 0 0 1 9.1 5.6" fill="none" stroke="#141414" stroke-width="1.6" stroke-linejoin="round" stroke-linecap="round"/>
<path d="M11.4 -5.6 A2.6 5.6 0 0 1 11.4 5.6" fill="none" stroke="#141414" stroke-width="1.6" stroke-linejoin="round" stroke-linecap="round"/>
</g>
<path d="M179.4 479.8 L214.6 498.6 L231.6 498 L256.8 474 L247 452 L231.5 442.6 L201 429.9 L189.3 426.7 L170 450.2 L170 476 Z" fill="#fdfefc" stroke="#fdfefc" stroke-width="0.1" stroke-linejoin="round" stroke-linecap="round"/>
<path d="M201 429.9 L189.3 426.7 L170 450.2 L170 476 L179.4 479.8" fill="none" stroke="#141414" stroke-width="2.2" stroke-linejoin="round" stroke-linecap="round"/>
<path d="M170 450.2 L181 454.6 L179.4 479.8" fill="none" stroke="#141414" stroke-width="1.4" stroke-linejoin="round" stroke-linecap="round"/>
<path d="M181 454.6 L192 436" fill="none" stroke="#141414" stroke-width="1.3" stroke-linejoin="round" stroke-linecap="round"/>
<path d="M201 429.9 Q180 450 179.4 479.8" fill="none" stroke="#141414" stroke-width="1.6" stroke-linejoin="round" stroke-linecap="round"/>
<path d="M201 429.9 L231.5 442.6" fill="none" stroke="#141414" stroke-width="2.2" stroke-linejoin="round" stroke-linecap="round"/>
<path d="M179.4 479.8 L214.6 498.6" fill="none" stroke="#141414" stroke-width="2.2" stroke-linejoin="round" stroke-linecap="round"/>
<ellipse cx="223.1" cy="470.6" rx="14.5" ry="29.3" fill="#fdfefc" stroke="#141414" stroke-width="2.2" transform="rotate(16.7 223.1 470.6)"/>
<ellipse cx="226.5" cy="472.6" rx="12" ry="24.6" fill="none" stroke="#141414" stroke-width="1.2" transform="rotate(16.7 226.5 472.6)"/>
<ellipse cx="232.6" cy="474" rx="11.6" ry="22.6" fill="#fdfefc" stroke="#141414" stroke-width="1.5" transform="rotate(14 232.6 474)"/>
<path d="M239.77 452.82 A11.6 22.6 14 0 0 228.83 496.68" fill="none" stroke="#141414" stroke-width="1.5"/>
<path d="M241.47 453.57 A11.6 22.6 14 0 0 230.53 497.43" fill="none" stroke="#141414" stroke-width="1.5"/>
<path d="M243.17 454.32 A11.6 22.6 14 0 0 232.23 498.18" fill="none" stroke="#141414" stroke-width="1.5"/>
<path d="M244.87 455.07 A11.6 22.6 14 0 0 233.93 498.93" fill="none" stroke="#141414" stroke-width="1.5"/>
<path d="M246.57 455.82 A11.6 22.6 14 0 0 235.63 499.68" fill="none" stroke="#141414" stroke-width="1.5"/>
<ellipse cx="244.2" cy="477.6" rx="12.9" ry="22.8" fill="#fdfefc" stroke="#141414" stroke-width="2" transform="rotate(14 244.2 477.6)"/>
<path d="M250.5 463.2 A9.6 17.4 14 1 0 247.5 493.2" fill="none" stroke="#141414" stroke-width="1.9"/>
<path d="M292.11 512.87 A14.2 21.6 16.5 1 1 297.35 500.92" fill="none" stroke="#141414" stroke-width="3.2"/>
<ellipse cx="318.6" cy="516.4" rx="9.2" ry="16.6" fill="#fdfefc" stroke="#141414" stroke-width="1.9" transform="rotate(15 318.6 516.4)"/>
<path d="M325.1 501.36 A9.2 16.6 15 0 0 316.5 533.42" fill="none" stroke="#141414" stroke-width="1.5"/>
<path d="M327.3 502.35 A9.2 16.6 15 0 0 318.7 534.41" fill="none" stroke="#141414" stroke-width="1.5"/>
<path d="M329.5 503.34 A9.2 16.6 15 0 0 320.9 535.4" fill="none" stroke="#141414" stroke-width="1.5"/>
<path d="M322.9 500.4 L332.6 503.4" fill="none" stroke="#141414" stroke-width="1.9" stroke-linejoin="round" stroke-linecap="round"/>
<path d="M314.3 532.4 L324.2 535" fill="none" stroke="#141414" stroke-width="1.9" stroke-linejoin="round" stroke-linecap="round"/>
<ellipse cx="328.4" cy="519.2" rx="9" ry="16.4" fill="#fdfefc" stroke="#141414" stroke-width="1.9" transform="rotate(15 328.4 519.2)"/>
<path d="M333.36 508.82 A6.6 12.2 15 0 0 327.04 532.38" fill="none" stroke="#141414" stroke-width="1.3"/>
<path d="M333.5 508.8 L337.8 511" fill="none" stroke="#141414" stroke-width="1.5" stroke-linejoin="round" stroke-linecap="round"/>
<path d="M327.2 532.4 L333 534" fill="none" stroke="#141414" stroke-width="1.5" stroke-linejoin="round" stroke-linecap="round"/>
<ellipse cx="335.6" cy="523.2" rx="5.4" ry="9.2" fill="#fdfefc" stroke="#141414" stroke-width="1.7" transform="rotate(15 335.6 523.2)"/>
<path d="M381.63 556.41 A8.6 13.8 15 1 1 387.33 544.16" fill="none" stroke="#141414" stroke-width="3.8"/>
<ellipse cx="423.5" cy="569" rx="8.2" ry="15.6" fill="none" stroke="#141414" stroke-width="4.8" transform="rotate(15 423.5 569)"/>
<ellipse cx="423.5" cy="569" rx="8.2" ry="15.6" fill="none" stroke="#fdfefc" stroke-width="1.2" transform="rotate(15 423.5 569)"/>
<ellipse cx="433.4" cy="574.3" rx="8.2" ry="15.6" fill="none" stroke="#141414" stroke-width="4.8" transform="rotate(15 433.4 574.3)"/>
<ellipse cx="433.4" cy="574.3" rx="8.2" ry="15.6" fill="none" stroke="#fdfefc" stroke-width="1.2" transform="rotate(15 433.4 574.3)"/>
<ellipse cx="443.4" cy="579" rx="8.2" ry="15.6" fill="none" stroke="#141414" stroke-width="4.8" transform="rotate(15 443.4 579)"/>
<ellipse cx="443.4" cy="579" rx="8.2" ry="15.6" fill="none" stroke="#fdfefc" stroke-width="1.2" transform="rotate(15 443.4 579)"/>
<ellipse cx="453.4" cy="583.7" rx="8.2" ry="15.6" fill="none" stroke="#141414" stroke-width="4.8" transform="rotate(15 453.4 583.7)"/>
<ellipse cx="453.4" cy="583.7" rx="8.2" ry="15.6" fill="none" stroke="#fdfefc" stroke-width="1.2" transform="rotate(15 453.4 583.7)"/>
<ellipse cx="463.3" cy="587.2" rx="8.2" ry="15.6" fill="none" stroke="#141414" stroke-width="4.8" transform="rotate(15 463.3 587.2)"/>
<ellipse cx="463.3" cy="587.2" rx="8.2" ry="15.6" fill="none" stroke="#fdfefc" stroke-width="1.2" transform="rotate(15 463.3 587.2)"/>
<path d="M425.32 552.84 A8.4 15.9 15 0 0 417.08 583.56" fill="none" stroke="#141414" stroke-width="2.2"/>
<ellipse cx="509.3" cy="608.4" rx="13.6" ry="20.4" fill="#fdfefc" stroke="#141414" stroke-width="1.9" transform="rotate(15 509.3 608.4)"/>
<ellipse cx="511.2" cy="609" rx="13.6" ry="20.2" fill="#fdfefc" stroke="#141414" stroke-width="1.9" transform="rotate(15 511.2 609)"/>
<path d="M517.6 601.2 A7.6 11.2 15 1 0 517.2 620.2" fill="none" stroke="#141414" stroke-width="1.7"/>
<path d="M514.6 604.2 A4.4 7.2 15 1 0 512.6 617" fill="none" stroke="#141414" stroke-width="1.2"/>
<g transform="translate(545.3 627.3) rotate(24.4)">
<path d="M1 -3.2 L14 -3.2 L14 3.2 L1 3.2 A1.6 3.2 0 0 1 1 -3.2 Z" fill="#fdfefc" stroke="#141414" stroke-width="1.7" stroke-linejoin="round" stroke-linecap="round"/>
<path d="M14 -6.9 L66 -6.9 L66 6.9 L14 6.9 A3 6.9 0 0 1 14 -6.9 Z" fill="#fdfefc" stroke="#141414" stroke-width="1.8" stroke-linejoin="round" stroke-linecap="round"/>
<path d="M21 -6.9 A3 6.9 0 0 1 21 6.9" fill="none" stroke="#141414" stroke-width="1.1" stroke-linejoin="round" stroke-linecap="round"/>
<path d="M23.3 -6.9 A3 6.9 0 0 1 23.3 6.9" fill="none" stroke="#141414" stroke-width="1.1" stroke-linejoin="round" stroke-linecap="round"/>
<path d="M25.6 -6.9 A3 6.9 0 0 1 25.6 6.9" fill="none" stroke="#141414" stroke-width="1.1" stroke-linejoin="round" stroke-linecap="round"/>
<path d="M27.9 -6.9 A3 6.9 0 0 1 27.9 6.9" fill="none" stroke="#141414" stroke-width="1.1" stroke-linejoin="round" stroke-linecap="round"/>
<path d="M30.2 -6.9 A3 6.9 0 0 1 30.2 6.9" fill="none" stroke="#141414" stroke-width="1.1" stroke-linejoin="round" stroke-linecap="round"/>
<path d="M32.5 -6.9 A3 6.9 0 0 1 32.5 6.9" fill="none" stroke="#141414" stroke-width="1.1" stroke-linejoin="round" stroke-linecap="round"/>
<path d="M34.8 -6.9 A3 6.9 0 0 1 34.8 6.9" fill="none" stroke="#141414" stroke-width="1.1" stroke-linejoin="round" stroke-linecap="round"/>
<path d="M37.1 -6.9 A3 6.9 0 0 1 37.1 6.9" fill="none" stroke="#141414" stroke-width="1.1" stroke-linejoin="round" stroke-linecap="round"/>
<path d="M42 -0.3 L53 -0.3 L53 1.5 L42 1.5 Z" fill="none" stroke="#141414" stroke-width="1" stroke-linejoin="round" stroke-linecap="round"/>
<path d="M66 -6.9 A3 6.9 0 0 1 66 6.9" fill="none" stroke="#141414" stroke-width="1.5" stroke-linejoin="round" stroke-linecap="round"/>
<path d="M66 -5 L72 -5 L72 5 L66 5" fill="#fdfefc" stroke="#141414" stroke-width="1.5" stroke-linejoin="round" stroke-linecap="round"/>
<path d="M72 -6.9 L84 -6.9 L84 6.9 L72 6.9 A3 6.9 0 0 1 72 -6.9 Z" fill="#fdfefc" stroke="#141414" stroke-width="1.8" stroke-linejoin="round" stroke-linecap="round"/>
<path d="M84 -6.9 A3 6.9 0 0 1 84 6.9" fill="none" stroke="#141414" stroke-width="1.5" stroke-linejoin="round" stroke-linecap="round"/>
<path d="M84 -5 L92 -6.9 L92 6.9 L84 5" fill="#fdfefc" stroke="#141414" stroke-width="1.5" stroke-linejoin="round" stroke-linecap="round"/>
<path d="M92 -6.9 L112 -6.9 A3 6.9 0 0 1 112 6.9 L92 6.9 A3 6.9 0 0 1 92 -6.9 Z" fill="#fdfefc" stroke="#141414" stroke-width="1.8" stroke-linejoin="round" stroke-linecap="round"/>
<path d="M93.5 -6.9 A3 6.9 0 0 1 93.5 6.9" fill="none" stroke="#141414" stroke-width="1.1" stroke-linejoin="round" stroke-linecap="round"/>
<path d="M95.9 -6.9 A3 6.9 0 0 1 95.9 6.9" fill="none" stroke="#141414" stroke-width="1.1" stroke-linejoin="round" stroke-linecap="round"/>
<path d="M98.3 -6.9 A3 6.9 0 0 1 98.3 6.9" fill="none" stroke="#141414" stroke-width="1.1" stroke-linejoin="round" stroke-linecap="round"/>
<path d="M100.7 -6.9 A3 6.9 0 0 1 100.7 6.9" fill="none" stroke="#141414" stroke-width="1.1" stroke-linejoin="round" stroke-linecap="round"/>
<path d="M103.1 -6.9 A3 6.9 0 0 1 103.1 6.9" fill="none" stroke="#141414" stroke-width="1.1" stroke-linejoin="round" stroke-linecap="round"/>
<path d="M105.5 -6.9 A3 6.9 0 0 1 105.5 6.9" fill="none" stroke="#141414" stroke-width="1.1" stroke-linejoin="round" stroke-linecap="round"/>
<path d="M107.9 -6.9 A3 6.9 0 0 1 107.9 6.9" fill="none" stroke="#141414" stroke-width="1.1" stroke-linejoin="round" stroke-linecap="round"/>
<path d="M110.3 -6.9 A3 6.9 0 0 1 110.3 6.9" fill="none" stroke="#141414" stroke-width="1.1" stroke-linejoin="round" stroke-linecap="round"/>
</g>
<g transform="translate(991.4 702) rotate(23.5)">
<path d="M-17 -9.3 L11 -9.3 A4.4 9.3 0 0 1 11 9.3 L-17 9.3 A4.4 9.3 0 0 1 -17 -9.3 Z" fill="#fdfefc" stroke="#141414" stroke-width="1.9" stroke-linejoin="round" stroke-linecap="round"/>
<path d="M-16.5 -9.3 A4.4 9.3 0 0 0 -16.5 9.3" fill="none" stroke="#141414" stroke-width="1.5" stroke-linejoin="round" stroke-linecap="round"/>
<path d="M-14.4 -9.3 A4.4 9.3 0 0 0 -14.4 9.3" fill="none" stroke="#141414" stroke-width="1.5" stroke-linejoin="round" stroke-linecap="round"/>
<path d="M-12.3 -9.3 A4.4 9.3 0 0 0 -12.3 9.3" fill="none" stroke="#141414" stroke-width="1.5" stroke-linejoin="round" stroke-linecap="round"/>
<path d="M-10.2 -9.3 A4.4 9.3 0 0 0 -10.2 9.3" fill="none" stroke="#141414" stroke-width="1.5" stroke-linejoin="round" stroke-linecap="round"/>
<path d="M-8.1 -9.3 A4.4 9.3 0 0 0 -8.1 9.3" fill="none" stroke="#141414" stroke-width="1.5" stroke-linejoin="round" stroke-linecap="round"/>
<path d="M-6 -9.3 A4.4 9.3 0 0 0 -6 9.3" fill="none" stroke="#141414" stroke-width="1.5" stroke-linejoin="round" stroke-linecap="round"/>
<path d="M-17 -9.3 A4.4 9.3 0 0 0 -17 9.3" fill="none" stroke="#141414" stroke-width="2.4" stroke-linejoin="round" stroke-linecap="round"/>
<ellipse cx="11" cy="0" rx="4.37" ry="9.3" fill="#fdfefc" stroke="#141414" stroke-width="1.7"/>
<path d="M12 -7.2 A3.38 7.2 0 0 0 12 7.2" fill="none" stroke="#141414" stroke-width="1.2"/>
<path d="M13 -4.6 L17.2 -4.6 A2.2 4.6 0 0 1 17.2 4.6 L13 4.6" fill="#fdfefc" stroke="#141414" stroke-width="1.4" stroke-linejoin="round" stroke-linecap="round"/>
<path d="M13.2 -4.6 A2.16 4.6 0 0 0 13.2 4.6" fill="none" stroke="#141414" stroke-width="1.2"/>
<path d="M15.2 -4.6 A2.16 4.6 0 0 0 15.2 4.6" fill="none" stroke="#141414" stroke-width="1"/>
</g>
<path d="M1062.1 748.39 A12.6 19.3 15 1 1 1069.21 734.68" fill="none" stroke="#141414" stroke-width="3.4"/>
<ellipse cx="1127.2" cy="765.6" rx="15.2" ry="20.2" fill="#fdfefc" stroke="#141414" stroke-width="1.7" transform="rotate(17 1127.2 765.6)"/>
<path d="M1135.11 747.12 A15.2 20.2 17 0 0 1123.29 785.76" fill="none" stroke="#141414" stroke-width="1.7"/>
<path d="M1137.11 747.96 A15.2 20.2 17 0 0 1125.29 786.6" fill="none" stroke="#141414" stroke-width="1.7"/>
<path d="M1139.11 748.8 A15.2 20.2 17 0 0 1127.29 787.44" fill="none" stroke="#141414" stroke-width="1.7"/>
<path d="M1141.11 749.64 A15.2 20.2 17 0 0 1129.29 788.28" fill="none" stroke="#141414" stroke-width="1.7"/>
<path d="M1133.11 746.28 A15.2 20.2 17 0 0 1121.29 784.92" fill="none" stroke="#141414" stroke-width="2.6"/>
<path d="M1137 746.7 L1147.8 748.5 L1167.2 757 L1170.1 760.2 L1171 775.2 L1163.7 792.8 L1150.2 803.9 L1120.8 792.2 L1122.6 771.1 L1124.4 766.4 L1136.1 749.4 Z" fill="#fdfefc" stroke="#141414" stroke-width="2" stroke-linejoin="round" stroke-linecap="round"/>
<path d="M1136.1 749.4 L1149.6 756.4 L1138.4 772 L1124.4 766.4" fill="none" stroke="#141414" stroke-width="1.5" stroke-linejoin="round" stroke-linecap="round"/>
<path d="M1138.4 772 L1136.7 777.5 L1122.6 771.1" fill="none" stroke="#141414" stroke-width="1.5" stroke-linejoin="round" stroke-linecap="round"/>
<path d="M1136.7 777.5 L1135.5 796.3" fill="none" stroke="#141414" stroke-width="1.5" stroke-linejoin="round" stroke-linecap="round"/>
<path d="M1120.8 790.4 L1135.5 796.3 L1150.2 803.9" fill="none" stroke="#141414" stroke-width="1.3" stroke-linejoin="round" stroke-linecap="round"/>
<path d="M1149.6 756.4 L1153.5 752.6 L1147.8 748.5" fill="none" stroke="#141414" stroke-width="1.3" stroke-linejoin="round" stroke-linecap="round"/>
<path d="M1153.5 752.6 L1167.2 757" fill="none" stroke="#141414" stroke-width="1.3" stroke-linejoin="round" stroke-linecap="round"/>
<ellipse cx="1154" cy="779.6" rx="15.7" ry="24.3" fill="#fdfefc" stroke="#141414" stroke-width="1.8" transform="rotate(19 1154 779.6)"/>
<ellipse cx="1154" cy="779.6" rx="11.6" ry="18" fill="none" stroke="#141414" stroke-width="1.6" transform="rotate(19 1154 779.6)"/>
<ellipse cx="1153" cy="779.2" rx="8.6" ry="14.2" fill="none" stroke="#141414" stroke-width="1.5" transform="rotate(19 1153 779.2)"/>
<path d="M1155.05 768.78 A5.8 10.6 19 0 0 1148.15 788.82" fill="none" stroke="#141414" stroke-width="1.5"/>
<path d="M1158.64 768.68 A7.2 12.4 19 0 0 1150.56 792.12" fill="none" stroke="#141414" stroke-width="1.2"/>
<ellipse cx="679.8" cy="943.2" rx="7.2" ry="6.6" fill="#fdfefc" stroke="#141414" stroke-width="1.8"/>
<ellipse cx="676.6" cy="951.2" rx="13.2" ry="13.2" fill="#fdfefc" stroke="#141414" stroke-width="1.8"/>
<ellipse cx="674.4" cy="954.8" rx="12.9" ry="13.1" fill="#fdfefc" stroke="#141414" stroke-width="2.2"/>
<ellipse cx="674.4" cy="956" rx="4" ry="3.3" fill="none" stroke="#141414" stroke-width="1.3"/>
<g transform="translate(828.1 1035.8) rotate(0.4)">
<path d="M-23.2 15 L-23.2 20.6 A23.2 10 0 0 0 23.2 20.6 L23.2 15" fill="#fdfefc" stroke="#141414" stroke-width="1.9" stroke-linejoin="round" stroke-linecap="round"/>
<path d="M-23.2 16.2 A23.2 9.74 0 0 0 23.2 16.2" fill="none" stroke="#141414" stroke-width="1.6"/>
<path d="M-18.5 10 L-18.5 14.4 A18.5 7.5 0 0 0 18.5 14.4 L18.5 10" fill="#fdfefc" stroke="#141414" stroke-width="1.5" stroke-linejoin="round" stroke-linecap="round"/>
<path d="M-23.1 0 L-23.1 8.4 A23.1 9.4 0 0 0 23.1 8.4 L23.1 0" fill="#fdfefc" stroke="#141414" stroke-width="1.9" stroke-linejoin="round" stroke-linecap="round"/>
<ellipse cx="0" cy="0" rx="23.1" ry="10.7" fill="#fdfefc" stroke="#141414" stroke-width="1.9"/>
<ellipse cx="0" cy="0.6" rx="3.1" ry="1.3" fill="none" stroke="#141414" stroke-width="1.3"/>
</g>
<path d="M804.1 1120.2 A23.2 12.3 0 0 0 850.5 1120.2" fill="none" stroke="#141414" stroke-width="1.7"/>
<path d="M831.33 1105.79 A23.2 12.3 0 1 1 823.27 1105.79" fill="none" stroke="#141414" stroke-width="2"/>
<path d="M831.7 1108.87 A18.2 9 0 1 1 822.9 1108.87" fill="none" stroke="#141414" stroke-width="1.7"/>
<path d="M816.9 1195 L816.9 1222 A9.8 5.6 0 0 0 836.5 1222 L836.5 1195 Z" fill="#141414" stroke="#141414" stroke-width="1.5" stroke-linejoin="round" stroke-linecap="round"/>
<ellipse cx="826.7" cy="1193.6" rx="9.6" ry="5.95" fill="#fdfefc" stroke="#141414" stroke-width="2.2"/>
<path d="M822.4 1194.4 L822.4 1199 L831 1199 L831 1194.4" fill="#141414" stroke="#141414" stroke-width="1.2" stroke-linejoin="round" stroke-linecap="round"/>
<path d="M821 1203 L825 1203.3 M829 1203.3 L832 1203" fill="none" stroke="#c8c8c8" stroke-width="0.7" stroke-linejoin="round" stroke-linecap="round"/>
<path d="M821 1211.5 L825 1211.8 M829 1211.8 L832 1211.5" fill="none" stroke="#c8c8c8" stroke-width="0.7" stroke-linejoin="round" stroke-linecap="round"/>
<path d="M821 1219 L825 1219.3 M829 1219.3 L832 1219" fill="none" stroke="#c8c8c8" stroke-width="0.7" stroke-linejoin="round" stroke-linecap="round"/>
<path d="M821 1223.6 A7 2.6 0 0 0 833 1223.6" fill="none" stroke="#e0e0e0" stroke-width="1" stroke-linejoin="round" stroke-linecap="round"/>
<g transform="translate(826.2 1271.4) rotate(0.4)">
<path d="M-15 56 L-15 78.5 A15 6.4 0 0 0 15 78.5 L15 56" fill="#fdfefc" stroke="#141414" stroke-width="1.9" stroke-linejoin="round" stroke-linecap="round"/>
<ellipse cx="-10.6" cy="71.8" rx="2.7" ry="4" fill="none" stroke="#141414" stroke-width="1.3"/>
<ellipse cx="10.6" cy="71.8" rx="2.7" ry="4" fill="none" stroke="#141414" stroke-width="1.3"/>
<circle cx="-1" cy="73" r="3.8" fill="none" stroke="#141414" stroke-width="1.5"/>
<path d="M-6 63 L-6 67 M5.4 63 L5.4 67" fill="none" stroke="#141414" stroke-width="1.3" stroke-linejoin="round" stroke-linecap="round"/>
<path d="M-17.8 47 L-17.8 52 A17.8 6.6 0 0 0 17.8 52 L17.8 47" fill="#fdfefc" stroke="#141414" stroke-width="1.9" stroke-linejoin="round" stroke-linecap="round"/>
<ellipse cx="0" cy="49.4" rx="17.8" ry="6.59" fill="#fdfefc" stroke="#141414" stroke-width="1.7"/>
<path d="M-11 47.6 A11 4.07 0 0 0 11 47.6" fill="none" stroke="#141414" stroke-width="1.3"/>
<path d="M-19.7 0 L-19.7 40 A19.7 7.4 0 0 0 19.7 40 L19.7 0" fill="#fdfefc" stroke="#141414" stroke-width="1.9" stroke-linejoin="round" stroke-linecap="round"/>
<path d="M-19.7 14.8 A19.7 6.7 0 0 0 19.7 14.8" fill="none" stroke="#141414" stroke-width="1.4"/>
<path d="M-19.7 17.4 A19.7 6.7 0 0 0 19.7 17.4" fill="none" stroke="#141414" stroke-width="1.4"/>
<path d="M-19.7 23.4 A19.7 6.7 0 0 0 19.7 23.4" fill="none" stroke="#141414" stroke-width="1.4"/>
<path d="M-19.7 26 A19.7 6.7 0 0 0 19.7 26" fill="none" stroke="#141414" stroke-width="1.4"/>
<path d="M-19.7 32 A19.7 6.7 0 0 0 19.7 32" fill="none" stroke="#141414" stroke-width="1.4"/>
<path d="M-19.7 34.6 A19.7 6.7 0 0 0 19.7 34.6" fill="none" stroke="#141414" stroke-width="1.4"/>
<path d="M-19.7 38 A19.7 6.7 0 0 0 19.7 38" fill="none" stroke="#141414" stroke-width="1.4"/>
<ellipse cx="0" cy="0" rx="19.7" ry="9.85" fill="#fdfefc" stroke="#141414" stroke-width="1.9"/>
<ellipse cx="0" cy="0.6" rx="11.4" ry="6.27" fill="none" stroke="#141414" stroke-width="1.7"/>
</g>
<g transform="translate(866 1698) rotate(0.4)">
<path d="M-22 24 L-22 102 L-19.4 111.6 L-5.6 117.6 L14.6 112.6 L21.7 104 L21.7 24 A22 8.6 0 0 0 -22 24 Z" fill="#fdfefc" stroke="#141414" stroke-width="1.9" stroke-linejoin="round" stroke-linecap="round"/>
<path d="M-21.8 26 A21.8 10.03 0 0 0 21.8 26" fill="none" stroke="#141414" stroke-width="1.5"/>
<path d="M-21.4 35.6 A21.4 9.42 0 0 0 21.4 35.6" fill="none" stroke="#141414" stroke-width="1.4"/>
<path d="M-21.8 53.6 A21.8 10.46 0 0 0 21.8 53.6" fill="none" stroke="#141414" stroke-width="2.2"/>
<path d="M-21 68 L-8 72.6 L-2.4 72.2 L13 67.6 L21.4 61" fill="none" stroke="#141414" stroke-width="1.3" stroke-linejoin="round" stroke-linecap="round"/>
<path d="M-20.6 68 L-20.6 103 M-7.8 72.6 L-7.8 110 M-1.6 72.2 L-1.6 116 M13.4 67.6 L13.4 112 M18.6 64 L18.6 107" fill="none" stroke="#141414" stroke-width="1.4" stroke-linejoin="round" stroke-linecap="round"/>
<path d="M-21 90 L-8 94.6 L-1.6 94.2 L13.4 89.6 L21.4 84" fill="none" stroke="#141414" stroke-width="1.3" stroke-linejoin="round" stroke-linecap="round"/>
<path d="M-21 93 L-8 97.6 L-1.6 97.2 L13.4 92.6 L21.4 87" fill="none" stroke="#141414" stroke-width="1" stroke-linejoin="round" stroke-linecap="round"/>
<path d="M-19.4 111.6 L-5.6 117.6 L-1.6 116.4 L14.6 112.6" fill="none" stroke="#141414" stroke-width="1.5" stroke-linejoin="round" stroke-linecap="round"/>
<path d="M-15.6 14 L-15.6 26 A15.6 6 0 0 0 15.6 26 L15.6 14" fill="#fdfefc" stroke="#141414" stroke-width="1.7" stroke-linejoin="round" stroke-linecap="round"/>
<path d="M-15.6 19.6 A15.6 5.93 0 0 0 15.6 19.6" fill="none" stroke="#141414" stroke-width="1.5"/>
<path d="M-15.6 22 A15.6 5.93 0 0 0 15.6 22" fill="none" stroke="#141414" stroke-width="1.5"/>
<path d="M-15.6 24.4 A15.6 5.93 0 0 0 15.6 24.4" fill="none" stroke="#141414" stroke-width="1.5"/>
<path d="M-17.4 10.6 L-17.4 16.6 A17.4 6.6 0 0 0 17.4 16.6 L17.4 10.6" fill="#fdfefc" stroke="#141414" stroke-width="1.8" stroke-linejoin="round" stroke-linecap="round"/>
<ellipse cx="0" cy="10.6" rx="17.4" ry="6.61" fill="#fdfefc" stroke="#141414" stroke-width="1.8"/>
<path d="M-12.6 0.6 L-12.6 10.8 A12.6 5.2 0 0 0 12.6 10.8 L12.6 0.6" fill="#fdfefc" stroke="#141414" stroke-width="1.8" stroke-linejoin="round" stroke-linecap="round"/>
<ellipse cx="0" cy="0.6" rx="12.6" ry="6.3" fill="#fdfefc" stroke="#141414" stroke-width="1.8"/>
<ellipse cx="0" cy="-1.6" rx="4.4" ry="2.2" fill="none" stroke="#141414" stroke-width="1.3"/>
<path d="M-4.4 -1.6 L-7 1.6 M4.4 -1.6 L7 1.6" fill="none" stroke="#141414" stroke-width="1.1" stroke-linejoin="round" stroke-linecap="round"/>
<ellipse cx="10.4" cy="10.4" rx="1.6" ry="2.2" fill="none" stroke="#141414" stroke-width="1.2"/>
</g>
</g>
<g id="bodyA">
<path d="M748.6 529.5 Q743.5 534 740 539.5 Q736.5 545 735.05 553 Q733.6 561 735.2 571" fill="none" stroke="#141414" stroke-width="2.1" stroke-linejoin="round" stroke-linecap="round"/>
<path d="M735.2 571 Q729 581 725.4 590.5" fill="none" stroke="#141414" stroke-width="2.1" stroke-linejoin="round" stroke-linecap="round"/>
<ellipse cx="729.4" cy="612.2" rx="14.2" ry="20.8" fill="none" stroke="#141414" stroke-width="2.1" transform="rotate(-12 729.4 612.2)"/>
<ellipse cx="730" cy="612.4" rx="10" ry="15.4" fill="none" stroke="#141414" stroke-width="1.6" transform="rotate(-12 730 612.4)"/>
<ellipse cx="730.9" cy="612.7" rx="8.6" ry="13.6" fill="none" stroke="#141414" stroke-width="1.6" transform="rotate(-12 730.9 612.7)"/>
<ellipse cx="731.8" cy="613" rx="7.2" ry="11.8" fill="none" stroke="#141414" stroke-width="1.6" transform="rotate(-12 731.8 613)"/>
<ellipse cx="732.7" cy="613.3" rx="5.8" ry="10" fill="none" stroke="#141414" stroke-width="1.6" transform="rotate(-12 732.7 613.3)"/>
<path d="M731.29 604.4 A5 9.2 -12 0 1 735.11 622.4" fill="none" stroke="#141414" stroke-width="1.2"/>
<path d="M735.6 571 L768 585.5" fill="none" stroke="#141414" stroke-width="1.3" stroke-linejoin="round" stroke-linecap="round"/>
<path d="M741 576 Q752 569 756 571.5 Q760 574 762 588" fill="none" stroke="#141414" stroke-width="1.3" stroke-linejoin="round" stroke-linecap="round" stroke-dasharray="5 4"/>
<path d="M742.5 545 Q746 551 751 548" fill="none" stroke="#141414" stroke-width="1.3" stroke-linejoin="round" stroke-linecap="round" stroke-dasharray="5 4"/>
<path d="M752 537 L757.5 558 L768 551" fill="none" stroke="#141414" stroke-width="1.3" stroke-linejoin="round" stroke-linecap="round"/>
<path d="M737 592 Q747 586 752 588 Q757 590 761 603" fill="none" stroke="#141414" stroke-width="1.3" stroke-linejoin="round" stroke-linecap="round" stroke-dasharray="6 4"/>
<ellipse cx="767.5" cy="529.1" rx="18.9" ry="9.45" fill="none" stroke="#141414" stroke-width="2.1"/>
<ellipse cx="767.3" cy="529.6" rx="13.2" ry="6.6" fill="none" stroke="#141414" stroke-width="1.5"/>
<ellipse cx="767.1" cy="530.4" rx="7.6" ry="3.8" fill="none" stroke="#141414" stroke-width="3"/>
<path d="M786.4 529.3 Q788.6 532.6 791.3 532.8 Q794 533 802.65 532 Q811.3 531 816.45 533 Q821.6 535 825.6 538" fill="none" stroke="#141414" stroke-width="2.1" stroke-linejoin="round" stroke-linecap="round"/>
<path d="M775.2 540.5 L775.2 597" fill="none" stroke="#141414" stroke-width="2.1" stroke-linejoin="round" stroke-linecap="round"/>
<path d="M775.2 548 Q783.8 555.8 792.4 557.6 Q801 559.4 809.6 558 Q818.2 556.6 825.6 553" fill="none" stroke="#141414" stroke-width="2.1" stroke-linejoin="round" stroke-linecap="round"/>
<path d="M775.2 597 Q778 604.5 785 605.25 Q792 606 800 603.25 Q808 600.5 816.5 593.5" fill="none" stroke="#141414" stroke-width="2.1" stroke-linejoin="round" stroke-linecap="round"/>
<path d="M818.2 570.4 Q813 579 812.6 583.3 Q812.2 587.6 814.35 591.9 Q816.5 596.2 826 601.6" fill="none" stroke="#141414" stroke-width="2.1" stroke-linejoin="round" stroke-linecap="round"/>
<path d="M816.5 598.4 L835.4 608.4" fill="none" stroke="#141414" stroke-width="1.5" stroke-linejoin="round" stroke-linecap="round"/>
<ellipse cx="827" cy="590.4" rx="9.6" ry="8.6" fill="none" stroke="#141414" stroke-width="1.4" stroke-dasharray="6 4"/>
<path d="M818.5 585.5 L827 589.4 L836 585" fill="none" stroke="#141414" stroke-width="1.3" stroke-linejoin="round" stroke-linecap="round" stroke-dasharray="5 3"/>
<path d="M844.9 574.7 L844.9 616.8 A18.9 8 0 0 0 882.7 611.6 L882.7 574.7" fill="none" stroke="#141414" stroke-width="2.1" stroke-linejoin="round" stroke-linecap="round"/>
<ellipse cx="863.8" cy="574.7" rx="18.9" ry="10.02" fill="none" stroke="#141414" stroke-width="2.1"/>
<ellipse cx="863.6" cy="575.4" rx="13.2" ry="6.6" fill="none" stroke="#141414" stroke-width="1.5"/>
<ellipse cx="863.4" cy="576.2" rx="7.8" ry="3.9" fill="none" stroke="#141414" stroke-width="2.6"/>
<path d="M746.4 625.6 Q748.5 620 752.75 618.8 Q757 617.6 762 617.2 Q767 616.8 771.5 617.7 Q776 618.6 778.25 616.3 Q780.5 614 783.6 607" fill="none" stroke="#141414" stroke-width="2.1" stroke-linejoin="round" stroke-linecap="round"/>
<path d="M746.6 625.4 L746.8 654.6 L783.8 674.4 L822 692.6" fill="none" stroke="#141414" stroke-width="2.1" stroke-linejoin="round" stroke-linecap="round"/>
<path d="M822 692.6 Q831 696.8 836.5 696.4 Q842 696 851 693 Q860 690 875 685.4" fill="none" stroke="#141414" stroke-width="2.1" stroke-linejoin="round" stroke-linecap="round"/>
<path d="M754.6 634.4 L778.6 647.8 L784.6 650.6" fill="none" stroke="#141414" stroke-width="1.5" stroke-linejoin="round" stroke-linecap="round"/>
<path d="M783.8 607 L810 619.5 L836 632.5" fill="none" stroke="#141414" stroke-width="1.4" stroke-linejoin="round" stroke-linecap="round"/>
<ellipse cx="765.7" cy="628.8" rx="9.6" ry="4.99" fill="none" stroke="#141414" stroke-width="2.2"/>
<path d="M753.6 623 A13 7.6 0 0 0 777.5 633.6" fill="none" stroke="#141414" stroke-width="1.6"/>
<path d="M784.7 660.8 Q784.5 638 787.25 636.7 Q790 635.4 797.2 634.5 Q804.4 633.6 807.45 634.8 Q810.5 636 813.4 641.4" fill="none" stroke="#141414" stroke-width="1.6" stroke-linejoin="round" stroke-linecap="round"/>
<path d="M784.7 660.8 L790.4 662.8" fill="none" stroke="#141414" stroke-width="1.5" stroke-linejoin="round" stroke-linecap="round"/>
<ellipse cx="799.3" cy="646" rx="12" ry="11.6" fill="none" stroke="#141414" stroke-width="2.2"/>
<ellipse cx="799.6" cy="645.6" rx="6.4" ry="5.8" fill="none" stroke="#141414" stroke-width="4.2"/>
<path d="M813.4 641.4 Q812 652 818 657.6" fill="none" stroke="#141414" stroke-width="1.4" stroke-linejoin="round" stroke-linecap="round"/>
<path d="M813.4 641.4 L826 640" fill="none" stroke="#141414" stroke-width="1.3" stroke-linejoin="round" stroke-linecap="round" stroke-dasharray="5 4"/>
<path d="M826 640 Q833 636.6 837.5 638.3 Q842 640 846 648" fill="none" stroke="#141414" stroke-width="1.3" stroke-linejoin="round" stroke-linecap="round" stroke-dasharray="6 4"/>
<ellipse cx="838.8" cy="663.2" rx="15.4" ry="7.7" fill="none" stroke="#141414" stroke-width="1.9"/>
<ellipse cx="838.8" cy="663.6" rx="10.4" ry="5.2" fill="none" stroke="#141414" stroke-width="1.5"/>
<path d="M826.6 666.6 A13 6 0 0 0 851 666.6" fill="none" stroke="#141414" stroke-width="3.2"/>
<path d="M800 668 L800 678" fill="none" stroke="#141414" stroke-width="1.3" stroke-linejoin="round" stroke-linecap="round" stroke-dasharray="4 3"/>
<path d="M796.5 668.6 L812.8 673.6 L813.4 668" fill="none" stroke="#141414" stroke-width="1.2" stroke-linejoin="round" stroke-linecap="round" stroke-dasharray="5 3"/>
<path d="M853 672 L860 682" fill="none" stroke="#141414" stroke-width="1.3" stroke-linejoin="round" stroke-linecap="round" stroke-dasharray="5 3"/>
<path d="M858 650 L861.6 670 L866 686" fill="none" stroke="#141414" stroke-width="1.5" stroke-linejoin="round" stroke-linecap="round"/>
<path d="M862 652 L864.8 668 L868 684" fill="none" stroke="#141414" stroke-width="1.2" stroke-linejoin="round" stroke-linecap="round" stroke-dasharray="6 3"/>
<path d="M889 625.6 Q877 633 874 639.5 Q871 646 869.3 654 Q867.6 662 866.6 677" fill="none" stroke="#141414" stroke-width="2.1" stroke-linejoin="round" stroke-linecap="round"/>
<ellipse cx="887.4" cy="651.6" rx="12.4" ry="20.2" fill="none" stroke="#141414" stroke-width="2.1" transform="rotate(10 887.4 651.6)"/>
<ellipse cx="886.6" cy="652" rx="9.6" ry="17" fill="none" stroke="#141414" stroke-width="1.6" transform="rotate(10 886.6 652)"/>
<path d="M888.34 637.23 A8.2 15.2 10 0 0 883.06 667.17" fill="none" stroke="#141414" stroke-width="1.6"/>
<path d="M887.13 639.2 A6.8 13.4 10 0 0 882.47 665.6" fill="none" stroke="#141414" stroke-width="1.6"/>
<path d="M885.91 641.18 A5.4 11.6 10 0 0 881.89 664.02" fill="none" stroke="#141414" stroke-width="1.6"/>
<path d="M889 625.4 A12 6.4 0 0 1 912.6 624.6" fill="none" stroke="#141414" stroke-width="1.7"/>
<path d="M893.4 628.6 A8 4.4 0 0 1 908.6 627.6 " fill="none" stroke="#141414" stroke-width="1.5"/>
<path d="M906 622.4 Q911 625.4 910.4 634.6" fill="none" stroke="#141414" stroke-width="2.6"/>
<path d="M882.7 609 Q888 614.6 896 616.4" fill="none" stroke="#141414" stroke-width="2.2" stroke-linejoin="round" stroke-linecap="round"/>
<path d="M900 616.6 Q912.8 619.6 916.4 622.1 Q920 624.6 920.6 630" fill="none" stroke="#141414" stroke-width="2.1" stroke-linejoin="round" stroke-linecap="round"/>
<path d="M920.6 630 L920.6 651.4" fill="none" stroke="#141414" stroke-width="2.1" stroke-linejoin="round" stroke-linecap="round"/>
<path d="M920.6 651.4 Q918 655.4 913 657.7 Q908 660 899.6 664.6" fill="none" stroke="#141414" stroke-width="2.1" stroke-linejoin="round" stroke-linecap="round"/>
<path d="M875 685.4 L893 676" fill="none" stroke="#141414" stroke-width="2.1" stroke-linejoin="round" stroke-linecap="round"/>
</g>
<g id="block1">
<path d="M741.6 1428.6 L805 1394.6 Q812.6 1390.8 820.6 1394.4 L906.6 1434.6 Q913.6 1438.6 907.6 1443.6 L843.6 1477.4 Q834 1482.4 824 1478.2 L741.6 1440.6 Q733.6 1435 741.6 1428.6 Z" fill="none" stroke="#141414" stroke-width="2.3" stroke-linejoin="round" stroke-linecap="round"/>
<path d="M738.2 1441.6 L823.4 1480.6 Q834 1485 844.2 1479.8 L909.8 1445.2" fill="none" stroke="#141414" stroke-width="1.3" stroke-linejoin="round" stroke-linecap="round"/>
<ellipse cx="825" cy="1436.2" rx="23.4" ry="12.52" fill="none" stroke="#141414" stroke-width="2.3"/>
<path d="M803.4 1439.6 A22.4 11.6 0 0 1 847 1440.4" fill="none" stroke="#141414" stroke-width="1.4"/>
<ellipse cx="815.8" cy="1402" rx="9.8" ry="5.49" fill="none" stroke="#141414" stroke-width="1.6"/>
<ellipse cx="757.6" cy="1434.4" rx="9.8" ry="5.49" fill="none" stroke="#141414" stroke-width="1.6"/>
<ellipse cx="893.6" cy="1437.6" rx="9.8" ry="5.49" fill="none" stroke="#141414" stroke-width="1.6"/>
<ellipse cx="831.2" cy="1470.6" rx="9.8" ry="5.49" fill="none" stroke="#141414" stroke-width="1.6"/>
<path d="M737.6 1436 L739 1598 Q739.2 1602.6 743.6 1604.8 L826 1644.6 Q833.4 1648.4 840.6 1644 L895.2 1616.2 Q899.4 1614 899.4 1609 L899.4 1580 Q899.4 1575.4 903.6 1573 L935.6 1554 Q940.4 1551 940.4 1545 L940.4 1484 Q940.4 1470.6 930 1465.2 L892.6 1446.4" fill="none" stroke="#141414" stroke-width="2.3" stroke-linejoin="round" stroke-linecap="round"/>
<path d="M911.2 1442.4 L911.4 1480" fill="none" stroke="#141414" stroke-width="1.6" stroke-linejoin="round" stroke-linecap="round"/>
<path d="M761.7 1505 L761.7 1596 Q761.7 1600 765.4 1601.8 L789 1613 Q793 1615 793 1610 L793 1525.6 Q793 1521 797.4 1521.8 L828 1532.4 Q838 1535.4 850 1526" fill="none" stroke="#141414" stroke-width="1.7" stroke-linejoin="round" stroke-linecap="round"/>
<path d="M802.7 1526.4 L802.7 1609.4 L794 1614.2" fill="none" stroke="#141414" stroke-width="1.3" stroke-linejoin="round" stroke-linecap="round"/>
<path d="M840.6 1531.6 L840.8 1602" fill="none" stroke="#141414" stroke-width="1.3" stroke-linejoin="round" stroke-linecap="round"/>
<path d="M840.8 1606 L840.9 1633" fill="none" stroke="#666" stroke-width="1" stroke-linejoin="round" stroke-linecap="round" stroke-dasharray="12 3"/>
<path d="M831 1495.6 L831 1522.2" fill="none" stroke="#141414" stroke-width="1.2" stroke-linejoin="round" stroke-linecap="round"/>
<ellipse cx="824.3" cy="1544.1" rx="12.2" ry="15.4" fill="none" stroke="#141414" stroke-width="1.7" transform="rotate(-22 824.3 1544.1)"/>
<ellipse cx="826.2" cy="1543.5" rx="7.2" ry="10.8" fill="none" stroke="#141414" stroke-width="1.5" transform="rotate(-22 826.2 1543.5)"/>
<path d="M817.36 1530.24 A12.4 15.6 -22 0 0 829.04 1559.16" fill="none" stroke="#141414" stroke-width="1.3"/>
<ellipse cx="824.3" cy="1582.4" rx="12.2" ry="15.4" fill="none" stroke="#141414" stroke-width="1.7" transform="rotate(-22 824.3 1582.4)"/>
<ellipse cx="826.2" cy="1581.8" rx="7.2" ry="10.8" fill="none" stroke="#141414" stroke-width="1.5" transform="rotate(-22 826.2 1581.8)"/>
<path d="M817.36 1568.54 A12.4 15.6 -22 0 0 829.04 1597.46" fill="none" stroke="#141414" stroke-width="1.3"/>
<clipPath id="cpL"><rect x="740" y="1490" width="22.6" height="90"/></clipPath>
<g clip-path="url(#cpL)">
<ellipse cx="753.4" cy="1511.3" rx="10.4" ry="13.4" fill="none" stroke="#141414" stroke-width="1.7" transform="rotate(-22 753.4 1511.3)"/>
<ellipse cx="755.4" cy="1510.7" rx="6" ry="9" fill="none" stroke="#141414" stroke-width="1.5" transform="rotate(-22 755.4 1510.7)"/>
<path d="M747.11 1499.49 A10.6 13.6 -22 0 0 757.29 1524.71" fill="none" stroke="#141414" stroke-width="1.3"/>
<ellipse cx="753.4" cy="1548.8" rx="10.4" ry="13.4" fill="none" stroke="#141414" stroke-width="1.7" transform="rotate(-22 753.4 1548.8)"/>
<ellipse cx="755.4" cy="1548.2" rx="6" ry="9" fill="none" stroke="#141414" stroke-width="1.5" transform="rotate(-22 755.4 1548.2)"/>
<path d="M747.11 1536.99 A10.6 13.6 -22 0 0 757.29 1562.21" fill="none" stroke="#141414" stroke-width="1.3"/>
</g>
<ellipse cx="747.2" cy="1500.4" rx="8.8" ry="12.2" fill="none" stroke="#141414" stroke-width="1.5" transform="rotate(-20 747.2 1500.4)" stroke-dasharray="5 3"/>
<path d="M746.6 1487.6 A9 12.4 -20 0 0 741.6 1508.6" fill="none" stroke="#141414" stroke-width="1.9"/>
<ellipse cx="746" cy="1500" rx="4.6" ry="7.4" fill="none" stroke="#141414" stroke-width="1.2" transform="rotate(-20 746 1500)" stroke-dasharray="3 2"/>
<path d="M742.6 1499.6 L749.6 1503.4" fill="none" stroke="#141414" stroke-width="3" stroke-linejoin="round" stroke-linecap="round"/>
<path d="M866.6 1482.4 A24 22 30 0 1 895 1464.6" fill="none" stroke="#141414" stroke-width="1.5" stroke-dasharray="7 4"/>
<path d="M866.4 1476 L866.4 1483 L872 1480.6" fill="none" stroke="#141414" stroke-width="1.4" stroke-linejoin="round" stroke-linecap="round"/>
<path d="M884 1467.6 A20 27 -25 0 1 887.6 1518.8" fill="none" stroke="#141414" stroke-width="1.5" stroke-dasharray="7 4"/>
<path d="M891 1463.8 A20 27 -25 0 1 896 1518.6" fill="none" stroke="#141414" stroke-width="1.4" stroke-dasharray="6 4"/>
<path d="M878.4 1472.6 A18 24 -25 0 1 880.6 1514.6" fill="none" stroke="#141414" stroke-width="1.3" stroke-dasharray="5 4"/>
<path d="M882 1512.4 Q889 1522.6 900 1516" fill="none" stroke="#141414" stroke-width="1.5" stroke-dasharray="6 3"/>
<ellipse cx="867" cy="1570.6" rx="18.6" ry="11.53" fill="none" stroke="#141414" stroke-width="1.4" stroke-dasharray="7 4"/>
<path d="M847.4 1572 L847.4 1580 A19.6 12 0 0 0 886.6 1580 L886.6 1572" fill="none" stroke="#141414" stroke-width="1.9" stroke-dasharray="4 3"/>
<path d="M848.6 1559 L848.6 1569" fill="none" stroke="#141414" stroke-width="1" stroke-linejoin="round" stroke-linecap="round"/>
<path d="M885.6 1559 L885.6 1569" fill="none" stroke="#141414" stroke-width="1" stroke-linejoin="round" stroke-linecap="round"/>
</g>
<g id="labels">
<text transform="translate(648.75 92.5) scale(0.84 1)" font-size="30" text-anchor="middle" fill="#141414" stroke="#141414" stroke-width="0.7">21</text>
<text transform="translate(649.1 168.75) scale(0.84 1)" font-size="30" text-anchor="middle" fill="#141414" stroke="#141414" stroke-width="0.7">22</text>
<text transform="translate(1186.25 57) scale(0.84 1)" font-size="30" text-anchor="middle" fill="#141414" stroke="#141414" stroke-width="0.7">24</text>
<text transform="translate(1099.5 114.2) scale(0.84 1)" font-size="30" text-anchor="middle" fill="#141414" stroke="#141414" stroke-width="0.7">24</text>
<text transform="translate(564.5 221.25) scale(0.84 1)" font-size="30" text-anchor="middle" fill="#141414" stroke="#141414" stroke-width="0.7">24</text>
<text transform="translate(479.6 273) scale(0.84 1)" font-size="30" text-anchor="middle" fill="#141414" stroke="#141414" stroke-width="0.7">24</text>
<text transform="translate(956.5 242.5) scale(0.84 1)" font-size="30" text-anchor="middle" fill="#141414" stroke="#141414" stroke-width="0.7">21</text>
<text transform="translate(956.5 319) scale(0.84 1)" font-size="30" text-anchor="middle" fill="#141414" stroke="#141414" stroke-width="0.7">22</text>
<text transform="translate(234.2 251.6) scale(0.84 1)" font-size="30" text-anchor="middle" fill="#141414" stroke="#141414" stroke-width="0.7">21</text>
<text transform="translate(281.75 274) scale(0.84 1)" font-size="30" text-anchor="middle" fill="#141414" stroke="#141414" stroke-width="0.7">22</text>
<text transform="translate(73.4 567.5) scale(0.94 1)" font-size="30" text-anchor="middle" fill="#141414" stroke="#141414" stroke-width="0.7">M</text>
<text transform="translate(124.1 591.25) scale(0.94 1)" font-size="30" text-anchor="middle" fill="#141414" stroke="#141414" stroke-width="0.7">L</text>
<text transform="translate(191.6 625) scale(0.94 1)" font-size="30" text-anchor="middle" fill="#141414" stroke="#141414" stroke-width="0.7">J</text>
<text transform="translate(278.5 665.75) scale(0.94 1)" font-size="30" text-anchor="middle" fill="#141414" stroke="#141414" stroke-width="0.7">K</text>
<text transform="translate(323.1 687.5) scale(0.94 1)" font-size="30" text-anchor="middle" fill="#141414" stroke="#141414" stroke-width="0.7">H</text>
<text transform="translate(375 712.5) scale(0.94 1)" font-size="30" text-anchor="middle" fill="#141414" stroke="#141414" stroke-width="0.7">I</text>
<text transform="translate(436.4 741.5) scale(0.94 1)" font-size="30" text-anchor="middle" fill="#141414" stroke="#141414" stroke-width="0.7">G</text>
<text transform="translate(502.5 773) scale(0.94 1)" font-size="30" text-anchor="middle" fill="#141414" stroke="#141414" stroke-width="0.7">F</text>
<text transform="translate(546.4 793.75) scale(0.94 1)" font-size="30" text-anchor="middle" fill="#141414" stroke="#141414" stroke-width="0.7">B</text>
<text transform="translate(322 798.75) scale(0.74 1)" font-size="30" text-anchor="middle" fill="#141414" stroke="#141414" stroke-width="0.7">7</text>
<text transform="translate(950.4 563.75) scale(0.94 1)" font-size="30" text-anchor="middle" fill="#141414" stroke="#141414" stroke-width="0.7">A</text>
<text transform="translate(997.25 597.5) scale(0.94 1)" font-size="30" text-anchor="middle" fill="#141414" stroke="#141414" stroke-width="0.7">C</text>
<text transform="translate(1060.9 625.75) scale(0.94 1)" font-size="30" text-anchor="middle" fill="#141414" stroke="#141414" stroke-width="0.7">E</text>
<text transform="translate(1148.5 668) scale(0.94 1)" font-size="30" text-anchor="middle" fill="#141414" stroke="#141414" stroke-width="0.7">D</text>
<text transform="translate(621.6 883.75) scale(0.84 1)" font-size="30" text-anchor="middle" fill="#141414" stroke="#141414" stroke-width="0.7">22</text>
<text transform="translate(620.4 958.75) scale(0.84 1)" font-size="30" text-anchor="middle" fill="#141414" stroke="#141414" stroke-width="0.7">21</text>
<text transform="translate(945 997.5) scale(0.84 1)" font-size="30" text-anchor="middle" fill="#141414" stroke="#141414" stroke-width="0.7">23</text>
<text transform="translate(944.75 1053.75) scale(0.84 1)" font-size="30" text-anchor="middle" fill="#141414" stroke="#141414" stroke-width="0.7">4</text>
<text transform="translate(944.4 1127.5) scale(0.84 1)" font-size="30" text-anchor="middle" fill="#141414" stroke="#141414" stroke-width="0.7">6</text>
<text transform="translate(944.1 1160.75) scale(0.84 1)" font-size="30" text-anchor="middle" fill="#141414" stroke="#141414" stroke-width="0.7">5</text>
<text transform="translate(943.5 1219.25) scale(0.84 1)" font-size="30" text-anchor="middle" fill="#141414" stroke="#141414" stroke-width="0.7">3</text>
<text transform="translate(942.5 1307.5) scale(0.84 1)" font-size="30" text-anchor="middle" fill="#141414" stroke="#141414" stroke-width="0.7">2</text>
<text transform="translate(1136.5 1138) scale(0.84 1)" font-size="30" text-anchor="middle" fill="#141414" stroke="#141414" stroke-width="0.7">23</text>
<text transform="translate(573.4 1258.75) scale(0.84 1)" font-size="30" text-anchor="middle" fill="#141414" stroke="#141414" stroke-width="0.7">23</text>
<text transform="translate(630.4 1303.75) scale(0.84 1)" font-size="30" text-anchor="middle" fill="#141414" stroke="#141414" stroke-width="0.7">23</text>
<text transform="translate(515.25 1491.75) scale(0.84 1)" font-size="30" text-anchor="middle" fill="#141414" stroke="#141414" stroke-width="0.7">21</text>
<text transform="translate(562.9 1513.75) scale(0.84 1)" font-size="30" text-anchor="middle" fill="#141414" stroke="#141414" stroke-width="0.7">22</text>
<text transform="translate(1116 1445.75) scale(0.84 1)" font-size="30" text-anchor="middle" fill="#141414" stroke="#141414" stroke-width="0.7">25</text>
<text transform="translate(1028.4 1548.25) scale(0.84 1)" font-size="30" text-anchor="middle" fill="#141414" stroke="#141414" stroke-width="0.7">1</text>
<text transform="translate(809 1670.5) scale(0.94 1)" font-size="30" text-anchor="middle" fill="#141414" stroke="#141414" stroke-width="0.7">A</text>
<text transform="translate(726.9 1780.5) scale(0.84 1)" font-size="30" text-anchor="middle" fill="#141414" stroke="#141414" stroke-width="0.7">20</text>
</g>
<g id="leaders">
<line x1="669.5" y1="83.25" x2="721" y2="83.5" stroke="#141414" stroke-width="2.2"/>
<line x1="669" y1="160.4" x2="724.5" y2="160.8" stroke="#141414" stroke-width="2.2"/>
<line x1="1185.2" y1="62.4" x2="1185" y2="117.7" stroke="#141414" stroke-width="2.2"/>
<line x1="1098.6" y1="119.7" x2="1098.3" y2="175.9" stroke="#141414" stroke-width="2.2"/>
<line x1="583.75" y1="213" x2="639.5" y2="213.75" stroke="#141414" stroke-width="2.2"/>
<line x1="498.25" y1="263.75" x2="555" y2="264.5" stroke="#141414" stroke-width="2.2"/>
<line x1="879.5" y1="232.7" x2="935" y2="233" stroke="#141414" stroke-width="2.2"/>
<line x1="876" y1="309.5" x2="935" y2="310" stroke="#141414" stroke-width="2.2"/>
<line x1="234.3" y1="258" x2="234" y2="336" stroke="#141414" stroke-width="2.2"/>
<line x1="281" y1="281" x2="280.6" y2="365" stroke="#141414" stroke-width="2.2"/>
<line x1="74.4" y1="411" x2="74" y2="540.75" stroke="#141414" stroke-width="2.2"/>
<line x1="124.5" y1="435" x2="124" y2="563.75" stroke="#141414" stroke-width="2.2"/>
<line x1="192.6" y1="491.25" x2="191.75" y2="597.5" stroke="#141414" stroke-width="2.2"/>
<line x1="278.9" y1="522.5" x2="278" y2="639.25" stroke="#141414" stroke-width="2.2"/>
<line x1="323.75" y1="535" x2="323" y2="660.5" stroke="#141414" stroke-width="2.2"/>
<line x1="376.8" y1="559.5" x2="376.2" y2="686" stroke="#141414" stroke-width="2.2"/>
<line x1="437.6" y1="590" x2="437" y2="715" stroke="#141414" stroke-width="2.2"/>
<line x1="502.7" y1="628.5" x2="502.4" y2="746" stroke="#141414" stroke-width="2.2"/>
<line x1="546.5" y1="631" x2="546.1" y2="767.5" stroke="#141414" stroke-width="2.2"/>
<line x1="322.6" y1="726.25" x2="322.4" y2="772.5" stroke="#141414" stroke-width="2.2"/>
<line x1="1060.2" y1="633.25" x2="1060" y2="713.75" stroke="#141414" stroke-width="2.2"/>
<line x1="996.9" y1="605" x2="996.6" y2="693.75" stroke="#141414" stroke-width="2.2"/>
<line x1="1148.4" y1="675" x2="1148.2" y2="747.5" stroke="#141414" stroke-width="2.2"/>
<line x1="641.25" y1="874.25" x2="697" y2="875" stroke="#141414" stroke-width="2.2"/>
<line x1="640.5" y1="950" x2="661.25" y2="950.2" stroke="#141414" stroke-width="2.2"/>
<line x1="842" y1="987" x2="925" y2="988" stroke="#141414" stroke-width="2.2"/>
<line x1="851.25" y1="1043.75" x2="925" y2="1044.5" stroke="#141414" stroke-width="2.2"/>
<line x1="850.5" y1="1117.5" x2="924.5" y2="1118" stroke="#141414" stroke-width="2.2"/>
<line x1="847.5" y1="1151.25" x2="924.5" y2="1151.75" stroke="#141414" stroke-width="2.2"/>
<line x1="837.5" y1="1209.25" x2="923.75" y2="1210" stroke="#141414" stroke-width="2.2"/>
<line x1="846.25" y1="1297" x2="923" y2="1297.5" stroke="#141414" stroke-width="2.2"/>
<line x1="1076" y1="1129" x2="1116" y2="1129.2" stroke="#141414" stroke-width="2.2"/>
<line x1="572.6" y1="1145" x2="572.3" y2="1231" stroke="#141414" stroke-width="2.2"/>
<line x1="629.6" y1="1190" x2="629.1" y2="1275" stroke="#141414" stroke-width="2.2"/>
<line x1="517.2" y1="1390" x2="516.8" y2="1466.25" stroke="#141414" stroke-width="2.2"/>
<line x1="563.9" y1="1415" x2="563.6" y2="1487.5" stroke="#141414" stroke-width="2.2"/>
<line x1="1017.5" y1="1436.25" x2="1092.5" y2="1437" stroke="#141414" stroke-width="2.2"/>
<line x1="940" y1="1539.5" x2="1017.5" y2="1540" stroke="#141414" stroke-width="2.2"/>
<line x1="823.75" y1="1660.5" x2="846.25" y2="1661" stroke="#141414" stroke-width="2.2"/>
<line x1="747.5" y1="1772.5" x2="843.75" y2="1773.5" stroke="#141414" stroke-width="2.2"/>
<polyline points="950.2,571.25 950,624.5 921.5,639.6" fill="none" stroke="#141414" stroke-width="2.2" stroke-linejoin="round"/>
<polyline points="793.75,1660.5 769.7,1660.5 769.3,1772.7" fill="none" stroke="#141414" stroke-width="2.2" stroke-linejoin="round"/>
</g>
<g id="stubs">
<line x1="828.5" y1="1024" x2="828.4" y2="1032.6" stroke="#141414" stroke-width="1.9"/>
<line x1="826.4" y1="1260" x2="826.2" y2="1271.2" stroke="#141414" stroke-width="1.9"/>
<line x1="826.7" y1="1187" x2="826.7" y2="1192.4" stroke="#141414" stroke-width="1.9"/>
</g>
<g id="wm2" fill="none" style="mix-blend-mode:multiply">
<path d="M374.6 768 L374.6 648 Q374.6 639.6 383 637.6 Q510 604 640.6 599.6 Q771 604 895.4 637.6 Q903.8 639.6 903.8 648 L903.8 768" fill="none" stroke="#aaacaa" stroke-width="3.6"/>
<path d="M374.6 768 L374.6 648 Q374.6 639.6 383 637.6 Q510 604 640.6 599.6 Q771 604 895.4 637.6 Q903.8 639.6 903.8 648 L903.8 768" fill="none" stroke="#c4c6c4" stroke-width="1.3"/>
<path d="M389.4 759 L389.4 662 Q389.4 654 397.6 652 Q515 620.6 640.6 616 Q766 620.6 882 652 Q890 654 890 662 L890 760" fill="none" stroke="#b8bab8" stroke-width="1.5"/>
<path d="M396 984.6 C393.07 982.23 384.58 976.35 378.4 970.4 C372.22 964.45 365.42 958.02 358.9 948.9 C352.38 939.78 344.2 926.12 339.3 915.7 C334.4 905.28 331.28 894.55 329.5 886.4 C327.72 878.25 328.6 873.32 328.6 866.8 C328.6 860.28 328.37 853.82 329.5 847.3 C330.63 840.78 332.13 836.5 335.4 827.7 C338.67 818.9 342.58 804.75 349.1 794.5 C355.62 784.25 367.02 772.47 374.5 766.2 C381.98 759.93 390.75 758.45 394 756.9 L876.4 757.4 C879.65 758.37 889.38 759.62 895.9 763.2 C902.42 766.78 909.63 772.38 915.5 778.9 C921.37 785.42 926.55 794.17 931.1 802.3 C935.65 810.43 939.7 818.9 942.8 827.7 C945.9 836.5 948.4 848.58 949.7 855.1 C951 861.62 950.6 861.58 950.6 866.8 C950.6 872.02 951 878.25 949.7 886.4 C948.4 894.55 945.9 906.58 942.8 915.7 C939.7 924.82 935.65 933.28 931.1 941.1 C926.55 948.92 921.37 956.57 915.5 962.6 C909.63 968.63 902.42 973.72 895.9 977.3 C889.38 980.88 879.65 982.97 876.4 984.1 Z" fill="none" stroke="#aaacaa" stroke-width="3.9"/>
<path d="M396 984.6 C393.07 982.23 384.58 976.35 378.4 970.4 C372.22 964.45 365.42 958.02 358.9 948.9 C352.38 939.78 344.2 926.12 339.3 915.7 C334.4 905.28 331.28 894.55 329.5 886.4 C327.72 878.25 328.6 873.32 328.6 866.8 C328.6 860.28 328.37 853.82 329.5 847.3 C330.63 840.78 332.13 836.5 335.4 827.7 C338.67 818.9 342.58 804.75 349.1 794.5 C355.62 784.25 367.02 772.47 374.5 766.2 C381.98 759.93 390.75 758.45 394 756.9 L876.4 757.4 C879.65 758.37 889.38 759.62 895.9 763.2 C902.42 766.78 909.63 772.38 915.5 778.9 C921.37 785.42 926.55 794.17 931.1 802.3 C935.65 810.43 939.7 818.9 942.8 827.7 C945.9 836.5 948.4 848.58 949.7 855.1 C951 861.62 950.6 861.58 950.6 866.8 C950.6 872.02 951 878.25 949.7 886.4 C948.4 894.55 945.9 906.58 942.8 915.7 C939.7 924.82 935.65 933.28 931.1 941.1 C926.55 948.92 921.37 956.57 915.5 962.6 C909.63 968.63 902.42 973.72 895.9 977.3 C889.38 980.88 879.65 982.97 876.4 984.1 Z" fill="none" stroke="#c4c6c4" stroke-width="1.4"/>
<path d="M397.5 985.3 C398.97 990.05 401.92 1003.58 406.3 1013.8 C410.68 1024.02 417.23 1036.02 423.8 1046.6 C430.37 1057.18 438.4 1067.82 445.7 1077.3 C453 1086.78 460.3 1095.48 467.6 1103.5 C474.9 1111.52 482.22 1118.47 489.5 1125.4 C496.78 1132.33 504.02 1138.9 511.3 1145.1 C518.58 1151.3 525.9 1157.12 533.2 1162.6 C540.5 1168.08 547.8 1173.25 555.1 1178 C562.4 1182.75 569.7 1186.73 577 1191.1 C584.3 1195.47 591.6 1200.18 598.9 1204.2 C606.2 1208.22 614.02 1211.7 620.8 1215.2 C627.58 1218.7 636.47 1223.53 639.6 1225.2" fill="none" stroke="#aaacaa" stroke-width="3.8"/>
<path d="M397.5 985.3 C398.97 990.05 401.92 1003.58 406.3 1013.8 C410.68 1024.02 417.23 1036.02 423.8 1046.6 C430.37 1057.18 438.4 1067.82 445.7 1077.3 C453 1086.78 460.3 1095.48 467.6 1103.5 C474.9 1111.52 482.22 1118.47 489.5 1125.4 C496.78 1132.33 504.02 1138.9 511.3 1145.1 C518.58 1151.3 525.9 1157.12 533.2 1162.6 C540.5 1168.08 547.8 1173.25 555.1 1178 C562.4 1182.75 569.7 1186.73 577 1191.1 C584.3 1195.47 591.6 1200.18 598.9 1204.2 C606.2 1208.22 614.02 1211.7 620.8 1215.2 C627.58 1218.7 636.47 1223.53 639.6 1225.2" fill="none" stroke="#c4c6c4" stroke-width="1.37"/>
<path d="M639.6 1225.2 C642.73 1223.53 651.62 1218.7 658.4 1215.2 C665.18 1211.7 673 1208.22 680.3 1204.2 C687.6 1200.18 694.9 1195.47 702.2 1191.1 C709.5 1186.73 716.8 1182.75 724.1 1178 C731.4 1173.25 738.7 1168.08 746 1162.6 C753.3 1157.12 760.62 1151.3 767.9 1145.1 C775.18 1138.9 782.42 1132.33 789.7 1125.4 C796.98 1118.47 804.3 1111.52 811.6 1103.5 C818.9 1095.48 826.2 1086.78 833.5 1077.3 C840.8 1067.82 848.83 1057.18 855.4 1046.6 C861.97 1036.02 868.52 1024.02 872.9 1013.8 C877.28 1003.58 880.23 990.05 881.7 985.3" fill="none" stroke="#aaacaa" stroke-width="3.8"/>
<path d="M639.6 1225.2 C642.73 1223.53 651.62 1218.7 658.4 1215.2 C665.18 1211.7 673 1208.22 680.3 1204.2 C687.6 1200.18 694.9 1195.47 702.2 1191.1 C709.5 1186.73 716.8 1182.75 724.1 1178 C731.4 1173.25 738.7 1168.08 746 1162.6 C753.3 1157.12 760.62 1151.3 767.9 1145.1 C775.18 1138.9 782.42 1132.33 789.7 1125.4 C796.98 1118.47 804.3 1111.52 811.6 1103.5 C818.9 1095.48 826.2 1086.78 833.5 1077.3 C840.8 1067.82 848.83 1057.18 855.4 1046.6 C861.97 1036.02 868.52 1024.02 872.9 1013.8 C877.28 1003.58 880.23 990.05 881.7 985.3" fill="none" stroke="#c4c6c4" stroke-width="1.37"/>
<path d="M412.8 986.4 C414.63 991.33 418.32 1004.13 423.8 1016 C429.28 1027.87 438.4 1045.57 445.7 1057.6 C453 1069.63 460.3 1079.08 467.6 1088.2 C474.9 1097.32 482.22 1105 489.5 1112.3 C496.78 1119.6 504.02 1125.8 511.3 1132 C518.58 1138.2 525.9 1144.03 533.2 1149.5 C540.5 1154.97 547.8 1160.05 555.1 1164.8 C562.4 1169.55 569.7 1173.98 577 1178 C584.3 1182.02 591.6 1185.25 598.9 1188.9 C606.2 1192.55 614.02 1196.88 620.8 1199.9 C627.58 1202.92 636.47 1205.82 639.6 1207" fill="none" stroke="#b8bab8" stroke-width="1.6"/>
<path d="M639.6 1207 C642.73 1205.82 651.62 1202.92 658.4 1199.9 C665.18 1196.88 673 1192.55 680.3 1188.9 C687.6 1185.25 694.9 1182.02 702.2 1178 C709.5 1173.98 716.8 1169.55 724.1 1164.8 C731.4 1160.05 738.7 1154.97 746 1149.5 C753.3 1144.03 760.62 1138.2 767.9 1132 C775.18 1125.8 782.42 1119.6 789.7 1112.3 C796.98 1105 804.3 1097.32 811.6 1088.2 C818.9 1079.08 826.2 1069.63 833.5 1057.6 C840.8 1045.57 849.92 1027.87 855.4 1016 C860.88 1004.13 864.57 991.33 866.4 986.4" fill="none" stroke="#b8bab8" stroke-width="1.6"/>
</g>
</svg>
</body>
</html>
